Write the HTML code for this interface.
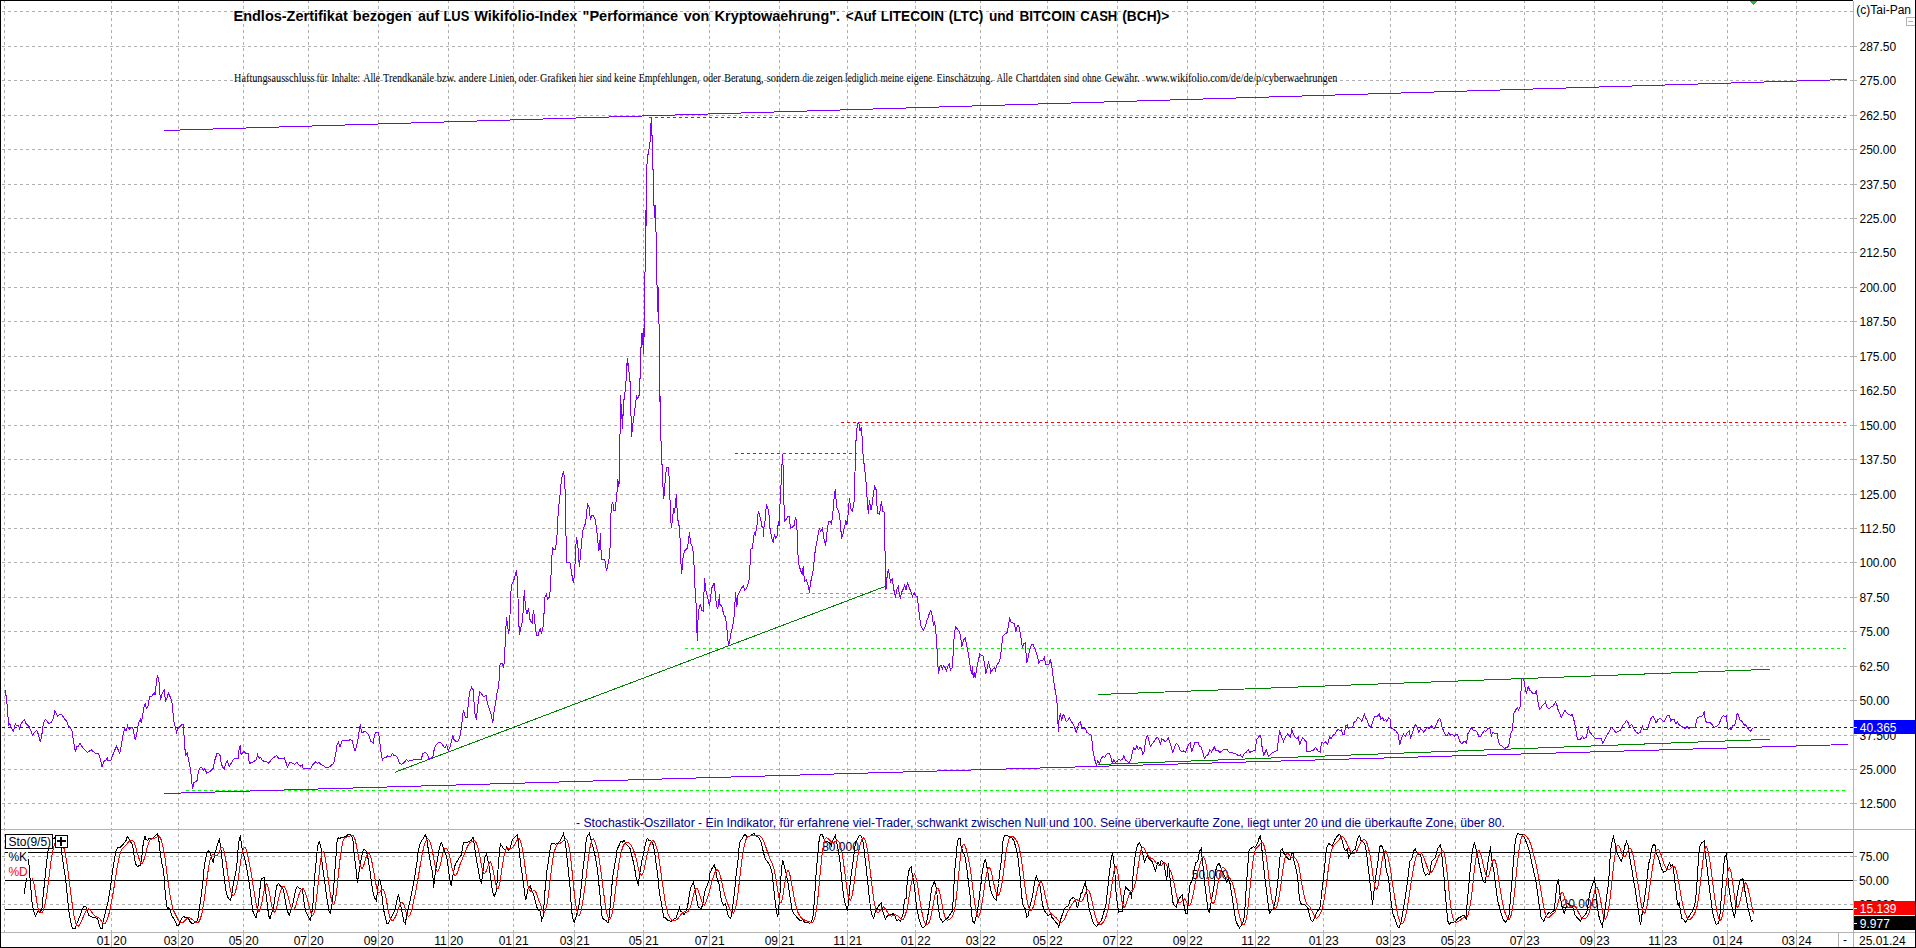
<!DOCTYPE html><html><head><meta charset="utf-8"><title>Chart</title><style>html,body{margin:0;padding:0;background:#fff;overflow:hidden}svg{display:block}text{font-family:"Liberation Sans",sans-serif;font-size:12px}.tt text{font-weight:bold;font-size:14px}.sf text{font-family:"Liberation Serif",serif;font-size:12px}</style></head><body>
<svg width="1916" height="948" viewBox="0 0 1916 948">
<rect x="0" y="0" width="1916" height="948" fill="#fff"/>
<g shape-rendering="crispEdges" stroke="#b0b0b0" stroke-width="1" stroke-dasharray="3,3" fill="none">
<line x1="2" y1="11.5" x2="1853" y2="11.5"/>
<line x1="2" y1="46.5" x2="1853" y2="46.5"/>
<line x1="2" y1="80.5" x2="1853" y2="80.5"/>
<line x1="2" y1="115.5" x2="1853" y2="115.5"/>
<line x1="2" y1="149.5" x2="1853" y2="149.5"/>
<line x1="2" y1="184.5" x2="1853" y2="184.5"/>
<line x1="2" y1="218.5" x2="1853" y2="218.5"/>
<line x1="2" y1="252.5" x2="1853" y2="252.5"/>
<line x1="2" y1="287.5" x2="1853" y2="287.5"/>
<line x1="2" y1="321.5" x2="1853" y2="321.5"/>
<line x1="2" y1="356.5" x2="1853" y2="356.5"/>
<line x1="2" y1="390.5" x2="1853" y2="390.5"/>
<line x1="2" y1="425.5" x2="1853" y2="425.5"/>
<line x1="2" y1="459.5" x2="1853" y2="459.5"/>
<line x1="2" y1="494.5" x2="1853" y2="494.5"/>
<line x1="2" y1="528.5" x2="1853" y2="528.5"/>
<line x1="2" y1="562.5" x2="1853" y2="562.5"/>
<line x1="2" y1="597.5" x2="1853" y2="597.5"/>
<line x1="2" y1="631.5" x2="1853" y2="631.5"/>
<line x1="2" y1="666.5" x2="1853" y2="666.5"/>
<line x1="2" y1="700.5" x2="1853" y2="700.5"/>
<line x1="2" y1="735.5" x2="1853" y2="735.5"/>
<line x1="2" y1="769.5" x2="1853" y2="769.5"/>
<line x1="2" y1="803.5" x2="1853" y2="803.5"/>
<line x1="2" y1="856.5" x2="1853" y2="856.5"/>
<line x1="2" y1="904.5" x2="1853" y2="904.5"/>
<line x1="4.5" y1="0" x2="4.5" y2="932"/>
<line x1="111.5" y1="0" x2="111.5" y2="932"/>
<line x1="178.5" y1="0" x2="178.5" y2="932"/>
<line x1="243.5" y1="0" x2="243.5" y2="932"/>
<line x1="308.5" y1="0" x2="308.5" y2="932"/>
<line x1="378.5" y1="0" x2="378.5" y2="932"/>
<line x1="448.5" y1="0" x2="448.5" y2="932"/>
<line x1="513.5" y1="0" x2="513.5" y2="932"/>
<line x1="574.5" y1="0" x2="574.5" y2="932"/>
<line x1="643.5" y1="0" x2="643.5" y2="932"/>
<line x1="709.5" y1="0" x2="709.5" y2="932"/>
<line x1="779.5" y1="0" x2="779.5" y2="932"/>
<line x1="847.5" y1="0" x2="847.5" y2="932"/>
<line x1="915.5" y1="0" x2="915.5" y2="932"/>
<line x1="980.5" y1="0" x2="980.5" y2="932"/>
<line x1="1047.5" y1="0" x2="1047.5" y2="932"/>
<line x1="1117.5" y1="0" x2="1117.5" y2="932"/>
<line x1="1187.5" y1="0" x2="1187.5" y2="932"/>
<line x1="1255.5" y1="0" x2="1255.5" y2="932"/>
<line x1="1323.5" y1="0" x2="1323.5" y2="932"/>
<line x1="1390.5" y1="0" x2="1390.5" y2="932"/>
<line x1="1455.5" y1="0" x2="1455.5" y2="932"/>
<line x1="1524.5" y1="0" x2="1524.5" y2="932"/>
<line x1="1594.5" y1="0" x2="1594.5" y2="932"/>
<line x1="1662.5" y1="0" x2="1662.5" y2="932"/>
<line x1="1727.5" y1="0" x2="1727.5" y2="932"/>
<line x1="1796.5" y1="0" x2="1796.5" y2="932"/>
</g>
<g shape-rendering="crispEdges" stroke="#b4b4b4" stroke-width="1" fill="none">
<line x1="1853.5" y1="1" x2="1853.5" y2="948"/>
<line x1="0" y1="829.5" x2="1916" y2="829.5"/>
<line x1="0" y1="932.5" x2="1916" y2="932.5"/>
<line x1="1838.5" y1="932" x2="1838.5" y2="948"/>
<line x1="111.5" y1="932" x2="111.5" y2="948"/>
<line x1="178.5" y1="932" x2="178.5" y2="948"/>
<line x1="243.5" y1="932" x2="243.5" y2="948"/>
<line x1="308.5" y1="932" x2="308.5" y2="948"/>
<line x1="378.5" y1="932" x2="378.5" y2="948"/>
<line x1="448.5" y1="932" x2="448.5" y2="948"/>
<line x1="513.5" y1="932" x2="513.5" y2="948"/>
<line x1="574.5" y1="932" x2="574.5" y2="948"/>
<line x1="643.5" y1="932" x2="643.5" y2="948"/>
<line x1="709.5" y1="932" x2="709.5" y2="948"/>
<line x1="779.5" y1="932" x2="779.5" y2="948"/>
<line x1="847.5" y1="932" x2="847.5" y2="948"/>
<line x1="915.5" y1="932" x2="915.5" y2="948"/>
<line x1="980.5" y1="932" x2="980.5" y2="948"/>
<line x1="1047.5" y1="932" x2="1047.5" y2="948"/>
<line x1="1117.5" y1="932" x2="1117.5" y2="948"/>
<line x1="1187.5" y1="932" x2="1187.5" y2="948"/>
<line x1="1255.5" y1="932" x2="1255.5" y2="948"/>
<line x1="1323.5" y1="932" x2="1323.5" y2="948"/>
<line x1="1390.5" y1="932" x2="1390.5" y2="948"/>
<line x1="1455.5" y1="932" x2="1455.5" y2="948"/>
<line x1="1524.5" y1="932" x2="1524.5" y2="948"/>
<line x1="1594.5" y1="932" x2="1594.5" y2="948"/>
<line x1="1662.5" y1="932" x2="1662.5" y2="948"/>
<line x1="1727.5" y1="932" x2="1727.5" y2="948"/>
<line x1="1796.5" y1="932" x2="1796.5" y2="948"/>
<line x1="1854" y1="46.5" x2="1857" y2="46.5"/>
<line x1="1854" y1="80.5" x2="1857" y2="80.5"/>
<line x1="1854" y1="115.5" x2="1857" y2="115.5"/>
<line x1="1854" y1="149.5" x2="1857" y2="149.5"/>
<line x1="1854" y1="184.5" x2="1857" y2="184.5"/>
<line x1="1854" y1="218.5" x2="1857" y2="218.5"/>
<line x1="1854" y1="252.5" x2="1857" y2="252.5"/>
<line x1="1854" y1="287.5" x2="1857" y2="287.5"/>
<line x1="1854" y1="321.5" x2="1857" y2="321.5"/>
<line x1="1854" y1="356.5" x2="1857" y2="356.5"/>
<line x1="1854" y1="390.5" x2="1857" y2="390.5"/>
<line x1="1854" y1="425.5" x2="1857" y2="425.5"/>
<line x1="1854" y1="459.5" x2="1857" y2="459.5"/>
<line x1="1854" y1="494.5" x2="1857" y2="494.5"/>
<line x1="1854" y1="528.5" x2="1857" y2="528.5"/>
<line x1="1854" y1="562.5" x2="1857" y2="562.5"/>
<line x1="1854" y1="597.5" x2="1857" y2="597.5"/>
<line x1="1854" y1="631.5" x2="1857" y2="631.5"/>
<line x1="1854" y1="666.5" x2="1857" y2="666.5"/>
<line x1="1854" y1="700.5" x2="1857" y2="700.5"/>
<line x1="1854" y1="735.5" x2="1857" y2="735.5"/>
<line x1="1854" y1="769.5" x2="1857" y2="769.5"/>
<line x1="1854" y1="803.5" x2="1857" y2="803.5"/>
<line x1="1854" y1="856.5" x2="1857" y2="856.5"/>
<line x1="1854" y1="880.5" x2="1857" y2="880.5"/>
<line x1="1854" y1="904.5" x2="1857" y2="904.5"/>
</g>
<g shape-rendering="crispEdges" fill="none" stroke-width="1">
<g stroke-dasharray="3,3">
<line x1="649" y1="117.5" x2="1846" y2="117.5" stroke="#f00"/>
<line x1="735" y1="453.5" x2="857" y2="453.5" stroke="#f00"/>
<line x1="841" y1="422.5" x2="1846" y2="422.5" stroke="#f00"/>
<line x1="800" y1="593.5" x2="916" y2="593.5" stroke="#0f0"/>
<line x1="685" y1="648.5" x2="1846" y2="648.5" stroke="#0f0"/>
<line x1="186" y1="790.5" x2="1846" y2="790.5" stroke="#0f0"/>
<line x1="2" y1="727.5" x2="1853" y2="727.5" stroke="#00f"/>
</g>
<line x1="164" y1="130.5" x2="1847" y2="79.5" stroke="#8000ff"/>
<line x1="164" y1="793.5" x2="1848" y2="744.5" stroke="#8000ff"/>
<line x1="394.6" y1="772.4" x2="886.6" y2="585.9" stroke="#008000"/>
<line x1="1098" y1="694.5" x2="1770" y2="669.3" stroke="#008000"/>
<line x1="1098" y1="764.5" x2="1770" y2="739.3" stroke="#008000"/>
<polyline points="5.2,690.5 6.6,699.1 7.8,714.0 8.6,725.8 9.7,723.4 10.5,725.4 11.3,727.3 13.3,731.2 15.3,723.9 16.4,725.8 18.5,725.4 19.6,728.9 21.1,723.4 22.7,721.8 24.3,719.5 25.8,723.4 27.4,725.0 29.0,726.5 30.5,729.7 32.4,735.5 34.4,732.3 36.8,730.5 38.4,734.4 40.4,742.2 42.0,733.6 43.4,722.6 45.4,719.5 47.0,721.1 48.9,723.4 50.9,722.6 52.9,719.5 54.8,711.4 56.4,713.2 57.6,716.1 59.5,714.5 61.5,714.5 63.4,717.2 65.0,719.5 66.5,721.1 68.4,725.8 70.5,728.1 72.0,731.2 73.6,741.4 75.5,752.4 76.7,746.1 78.3,746.1 80.2,743.3 82.2,746.9 84.6,749.6 87.7,752.4 91.3,749.6 92.4,751.1 95.8,753.5 98.6,753.5 100.2,758.6 102.2,767.3 103.8,761.5 105.7,760.2 107.3,757.9 108.0,761.0 110.9,759.9 112.4,756.3 114.3,750.8 116.6,746.4 118.2,750.0 119.8,753.2 121.3,745.3 122.9,735.9 124.5,728.9 126.0,730.8 127.6,725.8 129.2,729.7 130.7,727.6 132.8,727.6 134.2,735.2 135.4,740.2 136.7,733.6 138.6,722.6 140.4,719.5 141.4,723.4 142.8,714.0 144.1,707.0 145.3,703.1 146.4,708.5 148.0,706.2 149.5,696.8 151.9,696.3 154.2,692.9 155.0,695.2 156.1,685.1 157.4,675.3 158.9,680.4 159.7,691.3 160.5,700.4 162.1,693.7 164.1,689.7 165.5,701.0 166.8,699.1 168.3,693.2 170.4,697.3 171.9,701.5 173.0,713.2 174.1,722.6 175.4,727.3 176.6,732.0 177.7,728.9 180.1,726.5 182.4,724.2 183.5,724.5 184.0,735.2 184.8,746.9 185.5,755.5 187.1,752.7 188.7,760.2 190.2,768.0 191.3,776.6 192.6,789.2 193.8,782.9 194.9,782.1 197.0,780.6 198.5,771.2 200.4,767.3 202.0,767.7 203.5,770.4 204.8,768.8 206.7,773.0 209.0,772.0 211.4,770.4 213.3,768.0 214.8,760.2 216.9,753.9 218.4,753.5 220.0,755.5 221.1,762.6 222.3,766.5 224.2,769.3 225.5,764.1 227.3,761.0 229.1,766.5 230.9,763.7 234.1,758.6 236.4,758.3 238.0,759.0 239.1,749.2 240.3,745.3 241.1,755.2 242.7,752.4 244.3,751.6 246.6,753.9 248.2,753.6 249.3,763.3 252.1,762.6 254.4,761.0 256.0,760.2 257.6,754.7 259.1,758.6 260.2,757.1 262.3,760.2 264.6,761.8 266.2,761.5 268.5,763.3 270.9,760.2 273.2,757.9 276.4,755.5 278.7,758.3 281.8,758.6 284.2,757.9 285.8,761.8 287.3,767.3 288.9,764.1 290.0,762.6 291.2,762.6 292.3,763.3 294.4,764.1 294.7,764.1 297.0,761.8 297.0,761.8 298.3,764.9 298.6,764.9 300.2,766.2 302.2,764.6 303.3,768.8 305.7,768.0 308.8,768.0 310.7,768.8 312.7,764.9 315.8,761.5 317.4,763.3 319.0,762.6 321.3,764.9 323.7,765.7 326.0,768.0 328.4,767.7 331.0,765.7 333.8,763.0 335.4,755.5 337.0,745.3 338.5,742.2 340.1,746.9 342.0,740.6 344.8,740.2 348.7,740.6 350.3,739.5 352.3,740.6 353.4,745.8 355.0,750.5 356.5,746.9 358.1,738.3 359.7,727.3 360.5,725.4 361.6,732.8 363.6,732.0 365.5,731.2 367.5,733.6 369.1,735.9 370.6,741.1 372.2,742.2 373.3,743.0 374.6,734.4 376.1,732.3 378.5,732.3 379.7,741.4 380.8,750.8 382.4,760.2 383.9,757.9 386.3,757.1 387.9,755.8 390.2,756.8 392.6,753.5 394.1,755.5 396.5,756.3 398.0,759.0 399.6,763.3 401.5,764.1 403.5,763.3 406.6,759.4 408.2,761.5 410.6,760.5 413.7,759.9 416.8,759.0 419.2,759.7 421.2,759.4 422.8,753.6 425.4,752.4 427.5,754.7 429.0,759.0 430.9,758.3 432.8,757.1 434.4,748.5 436.4,744.6 438.7,742.2 441.1,743.0 443.1,745.8 445.0,747.7 446.6,744.6 448.1,750.8 450.0,746.9 452.1,738.3 452.8,735.5 454.1,739.9 456.0,741.4 458.3,740.9 459.9,736.7 461.5,727.3 462.5,717.2 463.5,709.8 464.6,715.1 465.4,717.6 467.2,717.2 468.5,700.7 470.1,690.5 471.6,687.4 473.2,689.7 474.0,702.3 475.1,714.8 476.3,719.5 477.9,705.4 479.5,691.3 481.0,692.9 482.9,696.0 484.9,696.3 486.0,695.2 487.3,702.3 488.9,707.8 490.7,712.5 492.8,722.6 494.3,710.1 495.9,700.7 497.0,692.9 498.2,688.2 499.5,677.2 500.1,663.1 501.9,663.3 503.8,667.2 505.1,645.3 505.8,629.6 506.6,617.4 507.9,628.0 508.7,634.3 509.7,623.3 510.5,601.4 511.3,585.8 512.9,582.6 514.8,577.2 516.3,570.4 517.3,578.7 518.0,598.3 518.7,621.8 519.6,635.1 520.7,628.0 522.0,623.3 523.1,612.4 524.3,590.5 525.4,606.9 527.0,613.9 528.5,607.7 530.1,620.2 532.1,623.3 533.5,609.6 534.8,621.8 536.4,635.1 538.2,635.1 540.3,627.7 541.4,634.3 543.1,626.5 544.2,610.8 545.0,596.7 546.5,594.4 547.6,599.1 549.7,596.7 550.8,579.5 551.7,560.7 552.5,547.4 553.9,549.4 555.5,549.0 556.7,540.4 557.5,526.3 557.8,520.9 558.3,510.0 559.9,496.6 560.6,486.5 562.2,475.8 563.5,471.1 564.6,479.4 565.3,495.9 565.8,534.1 565.8,520.9 566.4,562.6 568.5,562.3 570.0,562.6 571.6,573.2 573.5,583.4 574.4,574.8 575.2,560.7 575.8,546.6 576.6,537.5 577.9,546.6 579.4,567.0 580.5,554.4 581.8,540.4 582.6,531.0 584.1,526.6 585.2,524.1 585.7,523.1 586.5,513.1 587.6,504.5 589.1,507.1 590.4,520.1 592.0,515.4 593.5,515.4 595.1,519.4 596.2,525.6 596.6,529.4 598.2,545.1 599.0,550.5 600.6,533.3 600.9,548.2 601.8,559.1 604.5,559.5 605.3,562.3 606.5,571.4 607.6,565.4 609.2,558.4 610.4,543.5 610.7,517.8 611.5,504.5 612.8,502.9 613.9,510.0 615.4,510.0 616.5,495.9 617.5,488.0 617.8,479.4 618.9,486.5 619.4,473.9 619.7,441.1 620.4,425.4 620.6,395.3 621.4,419.1 621.7,404.3 622.5,428.5 623.3,408.2 624.4,394.9 624.5,399.5 624.8,392.4 625.3,391.0 625.4,381.3 625.9,381.6 626.4,380.5 626.6,366.3 627.5,358.4 628.0,365.5 628.4,363.1 628.8,371.8 629.6,372.6 629.9,381.3 630.5,382.1 630.6,383.1 630.6,411.3 630.7,399.5 631.4,437.2 632.7,425.4 634.2,414.4 635.5,403.5 636.6,396.4 637.8,398.8 639.2,394.9 639.4,395.6 639.5,378.2 639.7,381.6 640.3,377.4 640.5,348.1 641.4,347.3 641.4,333.1 642.2,344.9 642.7,338.6 643.3,328.3 643.5,354.4 644.3,327.5 644.6,272.2 645.4,271.4 645.4,247.4 645.4,210.2 645.5,250.0 646.4,209.4 646.7,168.3 647.7,155.6 648.8,151.7 649.6,142.2 650.3,141.4 650.7,126.4 651.5,118.4 651.6,135.1 652.4,135.9 652.4,169.1 653.4,169.9 653.7,205.5 654.8,206.3 655.1,223.7 655.4,205.0 655.9,231.6 656.5,232.4 656.5,247.4 656.6,284.8 657.6,285.6 657.7,311.7 658.4,286.7 658.5,323.6 659.3,324.4 659.6,395.6 659.7,395.7 660.5,411.3 660.6,396.4 660.6,399.5 660.8,437.9 661.6,450.5 662.4,477.1 663.2,489.6 663.7,499.3 664.8,486.5 665.5,475.5 666.6,467.7 668.2,467.4 669.1,477.1 669.8,494.3 670.6,516.2 671.3,528.0 672.3,520.9 673.7,507.6 674.5,513.1 675.7,500.6 676.5,494.3 677.0,507.6 677.6,517.8 678.9,526.3 678.9,524.1 680.1,538.8 680.9,562.3 681.7,574.0 682.8,559.1 684.0,552.9 685.4,549.7 687.5,548.2 689.5,532.5 690.6,543.5 692.2,546.6 693.3,552.9 694.2,568.5 694.8,585.8 695.8,598.3 696.5,613.9 696.9,629.6 697.3,641.3 698.0,620.2 698.9,609.2 700.5,603.8 701.6,610.8 703.1,611.1 703.9,595.2 704.5,577.6 705.5,588.9 706.6,593.6 707.8,598.3 709.4,606.1 710.9,595.2 711.7,588.1 714.1,583.4 715.3,593.6 716.4,605.3 717.7,609.2 719.6,594.4 720.0,604.6 721.9,606.1 723.5,613.9 725.4,617.1 726.6,624.9 727.4,634.3 728.5,646.0 729.7,640.6 731.0,632.7 732.6,627.3 734.0,617.1 734.9,604.6 735.5,592.3 736.8,606.9 738.0,595.2 739.9,591.2 741.5,588.1 743.4,585.8 744.9,590.5 747.0,587.3 748.5,582.6 749.3,577.9 750.1,563.8 750.9,549.0 752.4,548.2 754.3,532.5 755.1,535.7 756.8,527.8 757.5,517.8 758.4,511.5 760.3,517.8 761.8,524.7 761.8,526.4 763.1,528.0 763.4,537.2 764.2,524.1 764.7,527.0 765.3,514.7 766.5,505.3 768.1,509.2 769.4,517.8 770.0,528.4 770.4,529.4 771.5,537.2 771.6,537.8 773.1,541.9 773.1,542.5 774.4,534.7 774.7,534.9 775.9,538.0 775.9,538.6 777.5,534.9 777.5,531.5 778.3,521.7 778.6,522.1 779.1,526.3 779.4,514.7 779.7,509.6 780.6,493.9 781.7,471.2 782.5,454.0 783.3,471.2 783.6,503.3 784.4,506.5 784.6,521.3 786.4,519.0 788.0,516.6 789.3,516.6 790.4,528.4 792.7,526.8 794.3,525.3 795.4,517.1 796.3,519.8 796.9,530.0 797.7,532.3 797.9,540.9 797.9,553.5 798.7,564.4 800.2,569.1 801.3,572.3 802.1,574.6 803.2,566.3 804.1,577.0 804.8,580.9 806.3,579.8 807.9,584.8 809.5,592.6 810.4,583.2 812.0,576.2 813.1,570.7 814.3,559.7 815.4,548.8 816.2,545.6 817.8,536.2 819.3,528.4 820.9,531.5 822.5,528.4 824.0,539.4 825.6,545.6 826.7,534.7 827.6,526.8 828.7,521.3 830.3,521.3 831.4,523.7 832.3,519.0 833.4,506.5 834.5,493.9 835.4,489.2 836.1,500.2 837.0,508.0 838.9,512.0 840.1,520.6 841.6,538.6 842.8,534.7 844.4,527.6 845.9,520.6 847.0,524.5 847.8,517.4 848.6,508.0 849.4,498.3 850.6,508.0 852.2,511.2 853.3,506.5 854.6,497.9 855.0,472.0 855.8,443.8 856.6,431.3 857.7,423.5 858.8,422.2 860.0,431.3 861.1,427.4 862.1,436.8 862.8,451.7 863.9,462.6 865.0,472.0 866.3,484.6 867.1,498.6 868.3,513.5 869.4,500.2 871.0,509.6 872.1,504.9 873.3,493.9 874.6,486.1 876.2,490.0 876.8,503.3 877.7,513.5 879.6,514.3 880.5,506.5 881.5,501.5 882.7,511.2 884.8,512.4 884.8,540.9 884.8,550.4 885.9,553.5 885.9,590.3 886.6,581.7 887.4,573.8 888.5,569.1 889.8,577.8 890.6,581.7 892.1,578.5 893.2,584.8 894.2,591.8 895.6,597.6 896.5,590.3 898.4,586.7 899.2,594.2 900.4,598.6 901.5,592.6 903.4,588.7 904.7,584.8 906.2,590.3 907.5,582.5 909.4,587.9 910.9,591.8 912.5,596.5 914.1,592.6 915.6,595.8 917.2,596.5 918.4,606.7 919.5,616.1 920.6,624.7 921.9,627.9 923.4,630.5 925.3,626.3 927.0,620.0 928.1,617.7 929.7,612.2 931.0,610.6 932.1,615.3 933.6,625.5 934.4,620.8 935.7,630.2 936.4,639.6 937.2,652.1 937.8,664.7 938.6,673.7 939.9,666.2 941.5,665.4 942.2,669.4 943.5,666.2 945.1,667.8 946.6,670.9 947.7,666.2 949.3,663.9 950.4,670.1 952.1,667.8 953.2,653.7 954.0,639.6 954.8,631.0 955.9,626.8 957.6,629.4 959.5,631.8 960.6,636.5 961.8,646.6 963.4,640.4 965.3,637.7 966.5,644.3 967.6,649.8 968.9,656.8 970.4,667.8 971.5,674.1 972.5,666.2 973.2,678.0 974.3,671.7 975.1,678.0 976.7,668.6 978.2,661.5 979.8,653.7 981.4,655.3 982.9,655.3 984.5,663.1 985.8,674.1 987.3,667.8 988.4,661.5 989.7,666.2 990.8,672.5 993.1,668.6 994.7,667.8 995.5,670.1 997.0,664.7 999.4,661.5 1000.5,656.8 1001.7,645.9 1003.0,635.7 1004.9,634.1 1007.2,632.6 1008.5,625.5 1009.6,618.5 1011.1,622.4 1014.3,623.6 1015.8,631.5 1017.4,625.5 1018.5,625.2 1019.7,630.2 1021.3,639.6 1022.4,648.2 1023.7,643.5 1025.5,643.0 1026.5,663.1 1028.0,658.4 1029.6,650.6 1031.2,645.1 1033.0,644.3 1034.6,648.2 1036.2,652.1 1037.7,657.6 1038.8,663.1 1040.9,660.0 1042.4,660.7 1044.3,657.6 1045.9,664.7 1047.9,664.3 1049.2,663.9 1050.3,659.2 1051.8,666.2 1053.1,676.4 1054.4,686.2 1055.7,693.2 1056.9,700.3 1057.5,715.9 1058.5,732.4 1059.1,718.3 1060.4,713.3 1061.5,720.6 1063.2,714.4 1064.3,715.9 1066.3,721.4 1067.9,719.9 1069.4,717.5 1071.3,721.4 1073.2,724.6 1074.8,727.7 1076.3,733.2 1077.6,726.9 1079.1,723.0 1080.4,721.7 1082.0,728.9 1083.8,728.9 1085.4,728.5 1087.0,732.4 1088.9,733.9 1090.9,734.3 1092.1,741.8 1093.2,752.7 1094.8,759.8 1096.4,765.3 1097.9,760.6 1099.5,763.7 1101.1,759.0 1102.9,755.9 1104.5,757.7 1106.5,754.3 1108.9,753.0 1110.5,755.9 1112.3,762.9 1113.9,759.8 1115.2,762.1 1117.0,761.8 1118.3,759.3 1120.2,760.3 1122.2,759.8 1123.8,755.6 1125.3,759.8 1127.7,761.8 1129.2,762.4 1131.1,759.0 1132.4,752.0 1133.5,748.0 1135.2,749.6 1136.8,745.7 1138.3,749.6 1140.2,747.3 1141.8,749.6 1142.6,754.0 1144.1,752.0 1145.2,743.3 1146.5,737.1 1147.7,735.2 1148.8,740.2 1150.4,746.5 1152.7,743.3 1155.9,738.6 1157.7,737.1 1159.3,740.2 1160.3,744.6 1161.8,739.0 1163.7,740.2 1165.3,741.8 1166.8,740.2 1168.4,737.9 1170.0,742.6 1171.5,748.0 1172.8,752.4 1174.7,746.5 1176.2,743.3 1178.1,744.9 1180.1,750.4 1181.7,751.5 1183.3,750.9 1185.6,752.0 1187.2,748.0 1188.7,744.1 1190.3,742.6 1191.6,752.0 1193.1,748.0 1195.0,742.6 1198.1,742.6 1199.7,746.2 1201.3,747.3 1202.8,752.7 1204.4,758.2 1206.3,755.9 1208.3,754.3 1209.9,749.6 1211.5,752.0 1213.0,749.6 1214.6,746.5 1215.4,750.4 1217.7,750.4 1220.1,752.4 1222.4,750.4 1224.4,749.3 1227.1,749.6 1229.5,752.7 1232.6,752.7 1235.7,754.0 1238.9,755.9 1240.4,755.1 1242.3,757.1 1244.3,753.5 1246.4,752.0 1248.2,749.6 1249.8,752.4 1252.2,751.2 1255.3,750.4 1256.4,740.2 1258.4,737.1 1260.5,735.2 1261.6,741.8 1262.3,749.6 1263.9,755.1 1266.3,749.6 1268.3,756.2 1270.2,755.1 1272.5,752.7 1274.9,751.5 1277.2,750.4 1278.3,740.2 1279.6,730.5 1281.1,735.5 1283.5,741.5 1285.8,736.3 1287.7,733.9 1289.0,735.5 1290.5,737.1 1291.8,729.6 1293.3,733.9 1295.2,737.1 1296.8,738.6 1298.4,736.8 1299.6,744.6 1301.2,740.2 1302.7,737.4 1304.6,740.2 1306.2,741.8 1307.0,752.0 1309.3,751.5 1313.2,750.4 1315.6,747.3 1317.9,750.9 1320.3,752.0 1321.5,742.6 1323.4,743.3 1325.3,741.8 1327.8,744.1 1329.7,736.8 1331.2,738.6 1332.8,735.5 1335.1,733.9 1337.5,729.6 1337.8,729.2 1339.7,730.8 1341.3,729.6 1342.8,734.7 1344.4,734.4 1345.7,725.8 1347.2,724.6 1348.5,728.0 1351.1,727.4 1352.7,727.4 1354.3,721.4 1355.8,721.1 1358.2,717.0 1360.1,719.1 1361.8,721.4 1363.2,717.5 1364.4,714.4 1366.3,719.1 1367.6,721.4 1369.1,725.8 1371.0,727.4 1372.3,723.0 1374.2,717.0 1376.2,716.4 1377.8,715.9 1379.3,714.4 1380.9,719.1 1382.5,717.5 1384.0,720.6 1385.6,719.5 1386.7,721.4 1388.7,718.0 1390.0,719.1 1391.1,727.7 1393.4,729.2 1395.4,730.5 1398.1,733.9 1399.7,745.2 1401.7,737.9 1403.3,733.9 1405.2,736.3 1407.5,732.4 1409.1,730.8 1410.6,737.4 1412.2,733.9 1413.8,728.5 1415.3,724.6 1416.9,726.9 1418.9,732.4 1420.5,728.5 1422.4,730.5 1423.9,732.4 1425.8,729.2 1427.9,726.9 1429.0,728.5 1431.5,725.8 1433.3,728.5 1434.6,728.5 1436.5,723.8 1438.0,720.6 1439.6,718.3 1440.9,721.4 1442.0,726.9 1443.5,730.8 1445.6,735.5 1447.4,735.2 1448.7,732.7 1450.6,735.2 1452.4,734.3 1454.5,736.3 1456.0,734.3 1457.6,734.3 1458.7,738.6 1460.0,741.5 1461.5,743.7 1463.9,741.8 1465.4,741.8 1466.5,743.3 1467.8,733.9 1469.7,730.5 1471.7,727.7 1473.3,730.8 1474.8,730.0 1476.9,731.6 1478.7,736.3 1480.6,736.3 1482.7,733.2 1484.2,730.5 1485.8,731.6 1487.4,729.2 1489.7,727.4 1491.3,735.8 1492.8,732.4 1495.2,733.9 1497.2,733.9 1498.3,740.2 1499.4,744.9 1501.5,745.7 1503.0,747.3 1504.6,748.4 1506.1,747.7 1507.7,747.3 1509.3,743.3 1510.8,733.2 1511.9,731.6 1512.9,724.6 1513.5,714.4 1515.1,711.2 1517.1,707.6 1518.7,710.1 1520.2,706.5 1521.0,691.7 1521.8,679.1 1522.9,678.8 1524.2,681.0 1525.4,689.3 1526.5,693.5 1528.1,686.2 1529.6,690.1 1531.2,691.4 1532.8,693.5 1535.1,693.5 1536.4,690.1 1537.5,699.5 1538.6,705.8 1539.8,709.7 1541.7,706.5 1543.7,704.5 1545.3,702.3 1546.9,706.5 1548.4,708.9 1550.8,707.3 1553.1,705.8 1555.5,702.3 1556.7,704.2 1557.8,708.9 1559.4,712.8 1561.4,717.5 1563.3,713.6 1564.9,710.5 1566.7,712.8 1568.8,714.8 1571.1,715.2 1572.4,714.4 1573.5,718.3 1574.6,723.0 1575.5,727.7 1576.6,733.9 1577.4,739.4 1579.3,739.4 1580.5,739.4 1582.4,736.3 1583.7,738.3 1586.5,737.4 1587.6,730.8 1588.4,727.7 1589.9,732.4 1592.3,735.2 1594.6,737.9 1597.0,738.3 1599.3,738.6 1601.2,738.3 1602.8,743.7 1604.3,740.2 1606.8,735.5 1608.7,732.4 1611.4,727.4 1613.4,729.2 1615.8,732.7 1618.1,731.6 1620.4,730.0 1622.5,725.8 1624.4,723.8 1626.7,720.2 1628.3,723.0 1629.6,726.1 1631.9,724.6 1633.5,728.5 1635.8,731.6 1638.2,733.6 1640.1,732.4 1641.3,729.2 1642.4,725.8 1643.7,729.6 1647.3,729.2 1648.8,724.6 1650.4,719.9 1651.5,717.5 1653.1,716.4 1654.6,719.1 1656.2,723.0 1657.8,719.9 1660.1,718.3 1662.5,720.2 1664.0,722.2 1666.1,717.5 1667.6,715.5 1669.5,715.9 1670.8,721.4 1672.3,719.1 1674.2,719.9 1675.8,723.8 1677.3,721.4 1678.9,724.6 1681.2,726.1 1683.3,727.7 1685.2,728.5 1687.0,726.4 1689.1,728.5 1691.4,727.4 1695.3,727.4 1696.6,719.9 1698.0,717.5 1700.0,716.7 1702.4,715.9 1703.6,713.6 1704.4,711.2 1705.2,719.9 1706.3,722.2 1707.9,723.0 1710.2,722.7 1712.1,724.6 1714.1,727.4 1716.5,726.4 1718.8,724.6 1720.4,720.6 1722.0,716.7 1723.5,715.5 1725.1,716.7 1726.6,715.9 1727.4,727.7 1728.2,729.2 1729.8,728.5 1731.3,729.6 1732.4,725.3 1734.8,725.3 1736.0,719.9 1737.1,713.6 1738.4,714.8 1740.0,719.9 1741.5,720.6 1743.1,723.0 1744.7,725.8 1745.9,724.6 1747.5,727.7 1749.0,730.0 1750.4,731.6 1751.7,729.2 1752.8,728.5" stroke="#8000ff"/>
</g>
<text x="822.2" y="851" fill="#000040">80.000</text>
<text x="1191.8" y="879" fill="#000040">50.000</text>
<text x="1561.6" y="908" fill="#000040">20.000</text>
<g shape-rendering="crispEdges" stroke="#000" stroke-width="1" fill="none">
<line x1="5" y1="852.5" x2="1853" y2="852.5"/>
<line x1="5" y1="880.5" x2="1853" y2="880.5"/>
<line x1="5" y1="909.5" x2="1853" y2="909.5"/>
<polyline points="24.4,893.9 25.5,883.5 26.7,879.1 27.4,869.7 28.2,858.8 28.8,865.1 29.7,865.7 30.1,881.2 31.1,890.4 31.6,899.6 33.1,908.8 34.5,914.0 35.4,916.3 36.8,913.4 38.2,911.1 39.7,912.3 40.8,911.1 42.0,908.2 42.8,899.6 43.7,890.4 44.9,879.5 45.8,869.7 46.9,859.4 48.1,850.7 49.2,846.7 51.8,839.8 55.2,837.5 58.7,841.0 61.0,847.9 62.1,855.9 63.8,867.4 65.6,878.9 66.7,890.4 67.9,901.9 68.8,911.1 70.2,919.2 71.3,924.9 72.5,928.1 75.3,928.1 76.5,924.3 78.2,920.3 80.5,914.6 82.2,908.8 84.0,906.5 85.7,906.5 87.4,911.1 89.1,915.7 90.9,916.3 92.6,917.4 95.5,917.4 97.8,919.2 98.9,923.8 100.3,928.1 102.1,928.1 102.9,922.6 104.1,918.0 105.8,911.1 107.5,904.2 109.3,895.0 111.0,883.5 112.1,874.3 113.3,866.3 114.4,859.4 115.6,852.5 116.4,849.6 117.9,847.3 119.0,848.1 120.8,846.9 123.6,843.8 125.9,841.0 127.1,836.4 128.6,838.4 130.0,841.0 132.3,844.4 133.4,850.2 134.6,859.4 135.9,864.5 137.4,866.5 140.3,865.1 141.7,858.2 142.6,847.9 143.8,841.0 145.1,835.8 146.1,839.8 147.8,840.4 148.9,838.7 153.0,838.1 154.7,836.4 157.3,834.1 158.5,836.4 159.3,844.4 160.4,854.8 161.6,861.7 163.3,869.7 164.5,880.1 165.0,890.4 166.2,901.9 167.3,908.8 168.5,907.9 169.6,908.8 171.4,914.6 173.7,918.6 175.4,921.5 177.1,925.8 178.8,924.9 180.0,922.6 181.7,918.6 183.4,916.3 185.2,917.4 186.9,917.4 188.6,918.6 190.3,922.0 192.1,923.8 194.4,922.8 196.7,922.4 198.0,918.0 199.2,910.0 200.7,899.6 201.8,890.4 203.0,880.1 203.8,870.9 205.3,860.5 206.4,854.8 208.2,850.7 209.9,851.9 211.6,858.2 213.3,862.8 214.5,854.8 216.2,849.0 217.9,843.3 219.4,839.6 220.6,845.6 221.5,854.8 222.7,865.1 223.8,874.3 225.0,883.5 226.1,891.6 227.5,896.7 229.0,899.0 230.5,900.2 231.9,893.9 233.0,885.8 234.4,879.5 235.9,872.0 237.0,862.8 237.9,851.3 238.8,842.1 239.7,838.7 240.5,834.6 241.1,842.1 242.2,849.0 243.9,855.9 245.7,862.8 247.4,872.0 249.1,882.4 250.3,890.4 251.4,900.8 252.8,911.1 254.3,914.6 256.0,918.0 257.2,912.3 258.3,904.2 259.5,893.9 260.6,882.4 261.8,878.3 264.3,877.8 265.0,887.0 266.4,896.2 267.5,906.5 268.7,915.7 270.0,919.2 271.5,913.4 273.3,908.8 274.4,901.9 275.6,892.7 276.7,885.8 278.4,883.5 280.2,885.8 281.9,887.0 283.6,890.4 284.8,897.3 285.9,904.2 287.3,911.1 289.4,915.1 290.5,911.1 291.9,907.7 293.4,901.9 294.5,895.0 295.7,889.8 297.4,886.4 299.7,888.7 302.0,889.3 303.2,895.0 304.3,904.2 306.0,912.3 308.3,916.9 310.3,920.3 311.4,915.7 312.9,905.4 313.5,895.0 314.4,880.1 315.2,870.9 316.4,859.4 317.2,849.0 318.3,843.3 319.5,841.5 321.0,847.9 321.6,854.8 322.1,864.0 323.3,872.0 325.0,883.5 326.2,893.9 327.3,900.8 329.0,911.1 330.2,913.4 331.3,907.7 332.5,900.8 333.1,893.9 334.0,883.5 334.8,872.0 335.9,858.2 336.5,845.6 337.4,839.8 338.6,837.5 339.7,838.7 341.1,837.5 343.4,837.3 345.7,836.6 348.0,834.6 350.3,834.6 352.6,837.5 353.5,845.6 354.3,855.9 355.5,865.1 356.6,874.3 357.5,883.3 358.6,874.3 360.1,865.1 361.8,855.9 363.2,850.2 364.7,849.2 366.4,851.9 367.6,855.9 368.7,862.8 370.1,872.0 371.6,883.5 373.3,893.9 375.0,898.5 376.4,900.5 377.3,892.7 378.5,881.2 379.6,879.5 380.8,882.4 381.6,891.6 382.3,899.6 383.7,910.0 385.4,918.0 386.9,923.5 388.3,923.2 390.6,919.2 392.9,914.6 394.6,911.1 396.1,904.2 397.5,897.3 398.6,894.8 399.8,900.8 400.9,906.5 402.3,913.4 403.8,921.5 405.3,923.5 406.7,915.7 408.4,907.7 410.1,900.8 411.8,891.6 413.6,883.5 415.3,873.2 417.0,861.7 418.4,850.2 419.9,844.4 421.6,840.4 423.3,838.7 425.3,834.6 426.8,838.7 427.9,846.7 429.1,854.8 429.2,854.8 430.9,865.1 432.4,872.0 433.2,880.1 433.6,887.5 434.4,881.2 435.5,870.9 437.3,860.5 439.0,850.2 440.5,844.4 441.6,842.7 443.0,846.7 444.7,851.3 446.5,855.9 447.6,862.8 448.8,872.0 449.9,880.1 451.3,885.8 452.2,880.1 453.6,872.0 455.1,865.1 456.8,861.7 459.1,858.2 461.4,854.8 462.3,849.0 463.5,842.7 465.4,842.3 467.2,842.7 468.9,841.5 471.2,840.4 473.1,837.5 474.1,843.3 475.2,851.3 476.4,859.4 478.1,868.6 479.8,878.9 481.5,882.9 482.7,874.3 483.8,864.0 485.0,857.1 486.5,853.6 487.9,860.5 489.0,866.3 490.2,874.3 491.3,883.5 492.5,891.6 494.2,896.2 495.9,892.7 497.1,882.4 498.0,869.7 498.8,859.4 499.6,849.0 500.5,843.8 502.2,846.7 504.0,849.0 505.7,850.2 506.5,847.3 508.3,850.2 510.3,847.9 512.0,841.0 513.4,838.7 515.5,836.6 517.2,835.2 518.0,838.7 518.9,846.7 519.8,855.9 521.0,867.4 522.4,875.5 523.5,883.5 524.7,893.9 525.8,900.2 527.0,893.9 528.1,888.7 530.2,885.8 531.6,890.4 533.3,893.9 535.0,899.6 536.7,907.1 538.5,910.0 540.2,911.1 541.6,920.3 543.1,916.9 544.0,905.4 544.8,892.7 545.9,881.2 546.7,872.0 548.2,862.8 549.4,854.8 550.5,846.7 551.7,843.5 553.4,843.3 555.7,844.4 557.4,843.3 559.7,841.5 561.5,838.1 563.5,833.5 564.7,838.7 565.8,845.6 566.6,854.8 567.8,865.1 568.9,875.5 570.1,888.1 570.9,900.8 571.8,912.3 573.0,919.2 574.1,922.4 575.8,918.0 577.6,911.1 579.3,904.2 580.4,895.0 581.6,883.5 582.7,872.0 583.9,861.7 585.0,853.6 585.8,843.3 587.3,835.8 589.3,833.5 590.8,838.7 592.5,845.6 594.2,851.3 596.0,860.5 597.7,872.0 598.8,883.5 600.0,895.0 601.1,906.5 601.7,915.7 603.4,919.2 605.7,920.3 608.0,923.2 609.2,916.9 610.3,904.2 611.5,890.4 612.6,877.8 614.4,866.3 616.1,857.1 617.2,849.0 619.0,845.6 620.7,841.5 622.4,842.1 624.1,840.0 625.6,843.8 627.0,845.0 628.7,846.7 630.5,849.0 631.6,854.8 633.3,861.7 635.1,870.9 636.2,877.8 637.4,882.9 638.5,884.7 639.2,876.6 640.4,869.7 641.5,862.8 643.2,854.8 644.4,849.0 645.5,843.3 647.3,838.4 649.0,840.4 651.3,841.0 653.0,844.4 654.4,850.2 655.5,859.4 657.0,869.7 658.2,880.1 658.8,888.1 660.1,896.2 661.6,904.2 662.8,911.1 663.6,917.4 665.7,918.0 668.0,920.3 670.8,921.5 673.1,919.7 676.0,918.0 677.2,914.6 678.3,911.1 679.5,907.7 680.6,911.1 682.3,912.3 684.1,915.1 685.8,911.7 687.5,906.5 688.7,899.6 689.8,891.6 691.0,887.0 693.3,882.4 694.6,887.0 695.8,893.9 696.7,899.6 697.9,905.4 699.0,907.9 701.3,908.2 702.5,905.4 703.6,899.6 704.5,892.7 705.9,888.1 707.6,884.7 709.1,880.1 709.9,873.2 711.7,869.1 713.4,866.3 714.5,864.9 715.7,870.9 716.8,876.6 717.6,881.2 718.6,881.2 719.5,888.1 720.9,897.3 722.0,901.9 723.7,905.4 725.5,903.6 726.6,908.8 727.8,914.6 729.1,916.9 730.6,918.6 731.8,913.4 732.9,905.4 734.1,895.0 735.2,885.8 736.0,876.6 736.7,869.7 737.9,861.7 738.7,852.5 739.3,844.4 740.4,840.4 742.1,838.7 743.3,836.4 745.0,834.1 746.7,836.6 749.0,836.4 751.3,835.2 754.0,833.5 755.4,835.8 757.7,836.4 759.4,838.7 761.1,842.1 762.3,846.7 763.4,852.5 765.1,858.2 766.9,861.1 768.6,863.4 770.3,866.3 771.7,870.9 772.6,877.8 773.5,887.0 774.7,897.3 775.8,906.5 776.6,913.4 777.8,916.3 778.6,910.0 779.5,899.6 780.4,888.1 781.2,872.0 782.0,865.1 782.7,860.5 784.1,865.1 785.5,870.9 787.0,877.8 788.5,885.8 789.6,893.9 790.8,901.9 791.9,908.8 793.3,912.8 795.6,915.7 797.9,918.6 800.8,920.9 802.5,919.7 804.8,922.4 807.7,922.4 809.6,923.2 811.7,921.5 812.9,916.9 814.0,905.4 814.9,892.7 815.7,880.1 816.3,870.9 817.5,858.2 818.4,846.7 819.5,837.5 820.9,834.3 822.3,834.6 823.8,838.7 824.9,841.0 827.2,841.5 829.5,842.7 831.3,845.6 833.0,839.8 835.3,835.8 836.4,841.0 837.6,846.7 838.7,853.6 839.9,860.5 841.0,872.0 842.2,883.5 843.3,893.9 845.1,903.1 846.4,907.7 847.6,910.0 848.1,905.4 849.2,893.9 850.4,881.2 851.5,872.0 852.9,862.8 854.4,851.3 855.5,842.1 857.3,839.8 859.0,835.8 860.7,835.2 862.4,838.7 863.6,845.6 864.7,854.8 865.9,865.1 867.0,875.5 868.2,887.0 869.3,897.3 870.5,907.7 871.6,914.6 873.4,918.0 874.5,915.7 875.9,909.4 877.4,908.2 879.1,905.4 881.2,902.8 882.0,907.7 883.5,913.4 885.4,919.2 887.2,916.3 888.9,914.6 891.2,915.1 893.1,913.6 895.0,915.7 896.6,920.3 898.7,919.7 900.4,921.5 902.1,916.9 903.3,913.4 904.4,899.6 906.1,898.5 907.3,880.1 908.8,870.9 910.2,868.0 911.3,866.8 912.2,874.3 913.6,881.2 914.8,890.4 915.9,900.8 917.3,911.1 918.8,918.0 920.5,923.8 922.2,927.2 924.0,927.2 925.7,924.9 927.4,918.0 928.6,911.1 929.7,903.1 930.9,893.9 932.0,887.0 934.3,881.8 935.5,884.7 936.8,891.6 937.5,900.8 938.7,910.0 939.8,918.0 941.2,919.7 942.6,922.0 944.1,920.9 946.4,919.2 948.7,916.9 951.0,912.8 952.5,911.1 953.3,897.3 954.1,882.4 954.8,869.7 955.9,859.4 956.7,849.0 957.5,841.0 958.5,838.7 960.2,838.4 961.0,845.6 962.5,851.3 964.0,854.2 965.1,857.1 966.3,865.1 967.7,875.5 968.8,885.8 970.0,895.0 970.9,905.4 971.7,914.6 972.8,921.5 974.6,923.2 975.7,918.0 977.4,911.1 978.6,903.1 979.7,893.9 980.9,884.7 981.7,876.6 982.8,868.6 984.3,861.7 985.5,859.6 986.6,865.1 987.8,872.0 988.9,878.9 990.1,887.0 991.8,893.9 994.1,897.9 996.2,900.2 997.3,892.7 998.5,883.5 999.6,873.2 1001.0,862.8 1002.2,852.5 1002.7,843.3 1003.5,837.5 1005.4,835.2 1007.3,835.8 1009.1,836.6 1011.4,837.5 1013.7,840.4 1015.4,845.6 1016.5,850.2 1017.7,855.9 1018.8,865.1 1020.0,875.5 1020.8,885.8 1021.7,896.2 1022.9,904.8 1024.6,907.7 1025.7,910.0 1026.5,917.4 1028.0,916.3 1029.2,910.0 1030.7,903.1 1032.1,897.3 1033.2,891.6 1034.4,883.5 1035.5,877.8 1036.4,876.0 1037.8,880.1 1039.5,882.4 1040.7,890.4 1041.8,899.6 1043.0,906.5 1044.7,911.1 1046.4,913.4 1048.2,915.7 1050.5,914.0 1051.6,916.9 1053.9,919.7 1056.2,922.6 1057.9,924.3 1058.5,927.8 1059.8,922.6 1061.5,916.9 1063.2,912.3 1065.0,907.7 1066.7,906.5 1068.4,905.9 1069.8,900.8 1071.3,898.5 1073.6,897.5 1074.7,898.5 1075.9,901.9 1077.4,908.2 1078.5,904.2 1079.9,898.5 1080.8,893.9 1082.2,892.1 1083.6,887.0 1085.4,881.4 1086.2,888.1 1087.4,897.3 1088.5,905.4 1089.7,910.5 1091.2,915.7 1092.6,921.5 1094.3,924.3 1096.6,926.3 1098.3,924.3 1100.6,921.5 1102.3,918.0 1104.1,911.1 1105.8,905.4 1106.9,896.2 1108.1,884.7 1109.2,874.3 1110.4,865.1 1111.2,858.2 1112.7,853.4 1113.8,861.7 1115.0,874.3 1115.6,888.1 1116.7,897.3 1117.6,906.5 1118.8,912.0 1120.7,911.3 1122.5,911.3 1123.0,904.2 1124.2,893.9 1125.7,887.0 1127.3,888.7 1129.1,890.4 1130.5,891.6 1131.7,898.5 1132.2,888.1 1133.0,876.6 1134.0,866.3 1135.1,855.9 1136.3,849.0 1137.6,845.0 1139.5,842.7 1140.9,845.6 1142.0,850.7 1143.4,857.1 1144.5,862.8 1145.7,858.2 1147.2,855.9 1148.9,858.2 1150.6,859.9 1152.4,861.7 1154.1,867.4 1155.6,871.1 1156.7,865.7 1158.1,862.2 1159.8,865.1 1161.3,860.5 1163.3,862.2 1164.4,865.1 1165.6,874.3 1166.7,879.8 1167.9,867.4 1168.5,862.8 1169.4,872.0 1170.5,882.4 1171.7,892.7 1172.8,901.9 1174.2,905.4 1176.3,907.1 1177.7,900.8 1179.4,898.5 1181.1,896.2 1182.3,894.8 1183.4,901.9 1184.6,908.8 1185.7,913.4 1187.4,913.4 1188.0,904.2 1189.2,891.6 1190.3,882.9 1191.7,881.8 1193.2,876.6 1194.3,869.7 1195.8,862.8 1197.8,861.1 1198.9,854.8 1200.1,850.2 1201.2,848.4 1202.0,857.1 1203.0,866.3 1204.1,877.8 1205.3,888.1 1206.4,897.3 1207.8,908.8 1209.3,912.0 1210.4,906.5 1211.6,899.6 1212.7,893.9 1213.9,887.0 1214.7,878.9 1215.6,870.9 1217.3,865.1 1219.1,863.4 1220.4,866.3 1221.9,871.4 1223.7,874.3 1225.4,877.8 1226.9,882.4 1228.3,877.8 1230.0,883.5 1231.1,890.4 1232.3,897.3 1233.4,905.4 1234.6,913.4 1236.1,921.5 1237.7,924.9 1239.5,927.8 1240.9,926.1 1242.6,923.8 1244.1,918.0 1244.9,908.8 1245.5,897.3 1246.4,885.8 1247.2,874.3 1248.0,862.8 1249.0,851.3 1250.1,848.4 1251.8,847.9 1253.3,846.7 1254.7,847.3 1256.4,845.6 1257.9,842.1 1259.3,837.5 1260.5,835.8 1261.4,843.3 1262.2,852.5 1263.3,864.0 1264.5,874.3 1265.6,883.5 1266.8,892.7 1267.9,901.9 1269.1,911.1 1269.4,913.4 1271.5,910.5 1273.2,908.8 1274.7,904.2 1276.1,895.0 1277.3,885.8 1278.4,875.5 1279.3,864.0 1280.1,855.9 1280.7,850.2 1282.4,848.8 1283.6,853.0 1285.3,854.8 1287.0,857.6 1288.8,859.4 1290.5,859.9 1291.3,853.6 1293.1,853.6 1293.9,860.5 1295.1,865.1 1296.2,869.7 1297.4,876.6 1298.5,887.0 1299.3,897.3 1300.5,903.1 1302.0,904.8 1304.3,904.2 1306.6,906.5 1308.3,908.8 1309.5,915.7 1310.8,919.7 1312.9,921.5 1314.1,919.2 1315.8,914.6 1317.5,911.1 1319.8,908.2 1321.0,899.6 1322.1,889.3 1323.3,880.1 1324.4,869.7 1325.3,859.4 1326.1,852.5 1326.7,847.3 1329.0,843.3 1330.7,845.0 1331.9,845.6 1333.6,843.3 1335.3,838.7 1337.1,836.4 1339.4,834.3 1341.1,836.9 1342.2,841.0 1343.4,845.0 1344.5,849.6 1346.3,850.7 1347.4,849.0 1348.6,858.2 1350.3,854.8 1352.0,851.9 1353.7,850.2 1355.5,849.0 1356.6,842.7 1357.8,838.1 1359.5,835.8 1361.0,840.4 1362.9,842.1 1364.7,843.3 1365.8,849.0 1367.0,857.1 1368.1,866.3 1369.3,876.6 1370.4,885.8 1371.6,896.2 1372.5,905.4 1373.3,897.3 1374.4,888.1 1375.6,878.9 1376.7,869.7 1377.9,861.7 1379.0,853.6 1379.8,846.7 1381.3,845.3 1382.8,847.9 1384.2,852.5 1385.4,862.8 1386.5,872.0 1388.2,876.6 1389.4,885.8 1390.5,896.2 1391.7,906.5 1392.8,913.4 1394.6,918.0 1396.3,923.2 1398.0,927.2 1399.4,927.2 1400.9,922.6 1402.0,916.9 1403.5,908.8 1404.9,899.6 1406.3,890.4 1407.8,878.9 1408.9,868.6 1410.1,860.5 1411.8,859.4 1413.5,851.3 1415.3,848.8 1416.4,852.5 1418.1,854.2 1420.4,854.2 1421.6,860.5 1422.7,866.3 1423.9,871.4 1425.6,875.5 1427.3,873.7 1429.1,874.3 1430.2,870.9 1431.4,861.7 1433.1,859.9 1434.8,858.2 1436.5,853.6 1437.7,848.4 1439.4,846.7 1440.6,843.8 1441.5,852.5 1442.6,862.8 1443.8,874.3 1444.6,885.8 1445.7,898.5 1446.9,912.3 1448.0,921.5 1449.2,924.3 1450.9,922.6 1453.2,922.4 1455.5,921.5 1456.9,919.7 1458.4,918.0 1460.1,917.4 1462.4,915.5 1464.1,915.7 1466.4,919.2 1467.0,905.4 1468.2,891.6 1469.3,880.1 1470.2,869.7 1471.4,859.4 1472.5,850.2 1473.7,844.4 1474.5,842.7 1475.6,847.9 1476.8,851.3 1477.9,857.1 1479.1,864.0 1480.9,872.0 1482.7,880.1 1485.0,882.9 1486.1,876.6 1487.3,867.4 1488.4,859.4 1489.6,852.5 1490.5,846.5 1491.3,854.8 1492.4,864.0 1494.2,873.2 1495.3,882.4 1496.5,891.6 1497.6,900.8 1499.3,906.5 1501.1,913.4 1503.4,919.7 1505.4,922.4 1507.4,919.2 1509.1,914.6 1510.0,904.2 1510.8,893.9 1512.0,881.2 1512.8,869.7 1513.7,858.2 1514.6,847.9 1515.4,841.0 1516.6,835.8 1517.7,833.5 1520.0,834.3 1522.3,834.6 1524.1,837.5 1525.8,841.0 1527.5,845.0 1529.2,850.2 1530.4,855.9 1532.1,864.0 1533.8,872.0 1535.6,878.9 1536.7,887.0 1537.9,895.0 1539.0,904.2 1540.2,911.1 1541.1,918.0 1542.5,919.2 1543.6,921.5 1545.3,917.4 1547.1,914.6 1548.8,912.5 1550.5,913.4 1552.2,911.7 1554.5,910.5 1555.3,899.6 1556.3,890.4 1557.2,882.4 1558.3,879.5 1559.1,885.8 1559.9,893.9 1560.9,900.8 1562.0,906.5 1563.2,911.1 1564.3,913.4 1565.7,908.8 1567.2,903.1 1568.9,904.2 1570.6,905.4 1572.4,906.5 1573.5,908.8 1574.9,914.6 1577.0,917.4 1578.7,919.2 1580.6,921.2 1582.1,918.0 1583.9,916.3 1585.6,914.6 1587.3,910.0 1588.5,901.9 1589.6,893.9 1591.3,888.1 1593.1,882.4 1594.4,879.1 1595.4,885.8 1596.3,897.3 1597.4,907.7 1598.8,915.7 1600.5,921.5 1602.3,926.1 1603.4,920.3 1604.6,913.4 1605.7,904.2 1606.9,895.0 1608.0,887.0 1608.9,877.8 1609.7,864.0 1610.5,851.3 1611.7,843.3 1613.4,836.6 1614.7,841.0 1615.8,849.0 1617.2,852.5 1618.9,857.1 1621.2,861.1 1623.0,857.1 1624.1,849.0 1625.3,844.4 1626.6,841.5 1628.1,845.6 1629.3,854.8 1630.4,861.7 1632.2,870.9 1633.3,878.9 1635.0,888.1 1636.2,896.2 1637.7,906.5 1638.8,913.4 1639.6,919.2 1640.5,924.9 1641.6,918.0 1642.7,908.8 1644.2,900.8 1645.4,892.7 1646.5,883.5 1647.7,873.2 1648.5,864.0 1650.0,859.4 1651.1,852.5 1652.3,846.7 1654.0,844.2 1655.2,845.6 1656.1,852.5 1658.0,857.1 1659.8,862.8 1661.5,868.6 1663.8,872.2 1665.5,871.4 1667.2,869.1 1668.4,865.1 1669.5,862.8 1670.7,866.3 1672.4,864.5 1673.6,869.7 1674.7,880.1 1675.9,890.4 1677.0,899.6 1678.2,905.4 1679.3,902.5 1680.5,911.1 1681.6,918.0 1683.3,919.2 1685.6,922.4 1687.4,919.2 1689.1,916.3 1690.4,914.0 1692.1,911.7 1693.8,908.2 1695.5,900.8 1696.7,888.1 1697.5,873.2 1698.4,860.5 1699.3,849.0 1700.5,844.4 1701.9,842.7 1704.2,841.2 1704.7,847.9 1705.5,855.9 1706.7,864.0 1707.8,874.3 1708.8,883.5 1710.1,893.9 1711.3,901.9 1712.4,911.1 1713.9,918.0 1716.2,924.3 1718.5,923.2 1719.7,918.0 1720.5,908.8 1721.4,895.0 1722.6,881.2 1723.5,866.3 1724.9,856.5 1726.6,854.2 1727.2,862.8 1727.7,872.0 1728.3,882.4 1729.5,891.6 1730.6,899.6 1732.3,908.8 1733.5,914.6 1734.6,917.4 1735.4,911.1 1736.4,900.8 1737.5,892.7 1738.7,885.8 1740.4,880.1 1742.7,878.3 1743.8,882.4 1744.6,889.3 1746.1,897.3 1747.3,904.2 1749.0,912.3 1750.7,919.2 1751.5,921.2 1752.7,919.7"/>
<polyline points="31.4,877.7 32.4,878.3 33.4,881.2 34.4,885.9 35.4,892.2 36.4,899.2 37.4,905.4 38.4,909.4 39.4,911.7 40.4,912.6 41.4,912.8 42.4,912.2 43.4,910.3 44.4,907.0 45.4,902.6 46.4,897.0 47.4,890.1 48.4,882.1 49.4,873.6 50.4,865.6 51.4,858.6 52.4,852.7 53.4,848.1 54.4,844.6 55.4,842.1 56.4,840.6 57.4,839.6 58.4,839.1 59.4,839.2 60.4,839.9 61.4,841.1 62.4,843.1 63.4,846.1 64.4,850.0 65.4,854.6 66.4,860.1 67.4,866.5 68.4,874.0 69.4,882.0 70.4,890.1 71.4,897.9 72.4,905.4 73.4,912.2 74.4,917.8 75.4,921.9 76.4,924.6 77.4,925.8 78.4,926.0 79.4,925.2 80.4,923.6 81.4,921.6 82.4,919.2 83.4,916.6 84.4,914.2 85.4,912.0 86.4,910.3 87.4,909.2 88.4,908.8 89.4,909.2 90.4,910.2 91.4,911.5 92.4,912.9 93.4,914.3 94.4,915.5 95.4,916.3 96.4,916.9 97.4,917.3 98.4,917.7 99.4,918.5 100.4,919.8 101.4,921.2 102.4,922.5 103.4,923.4 104.4,923.7 105.4,923.2 106.4,921.8 107.4,919.3 108.4,915.9 109.4,911.9 110.4,907.3 111.4,902.4 112.4,897.1 113.4,891.3 114.4,885.1 115.4,878.6 116.4,872.1 117.4,866.1 118.4,860.6 119.4,856.3 120.4,852.9 121.4,850.3 122.4,848.5 123.4,847.4 124.4,846.5 125.4,845.7 126.4,844.7 127.4,843.4 128.4,842.1 129.4,841.1 130.4,840.4 131.4,840.1 132.4,840.3 133.4,841.2 134.4,843.0 135.4,846.1 136.4,849.6 137.4,853.1 138.4,856.5 139.4,859.7 140.4,862.2 141.4,863.8 142.4,863.5 143.4,861.4 144.4,858.2 145.4,854.4 146.4,850.5 147.4,846.9 148.4,843.7 149.4,841.1 150.4,839.6 151.4,839.0 152.4,838.9 153.4,838.8 154.4,838.5 155.4,838.0 156.4,837.5 157.4,837.0 158.4,836.5 159.4,836.6 160.4,837.9 161.4,840.4 162.4,843.9 163.4,848.3 164.4,853.7 165.4,860.7 166.4,868.8 167.4,876.9 168.4,884.3 169.4,891.0 170.4,897.0 171.4,902.6 172.4,907.0 173.4,910.2 174.4,912.3 175.4,914.2 176.4,916.2 177.4,918.3 178.4,920.2 179.4,921.6 180.4,922.5 181.4,922.9 182.4,922.8 183.4,922.1 184.4,921.2 185.4,920.0 186.4,919.0 187.4,918.1 188.4,917.7 189.4,917.6 190.4,918.0 191.4,918.8 192.4,919.7 193.4,920.6 194.4,921.3 195.4,922.0 196.4,922.5 197.4,922.8 198.4,922.3 199.4,920.9 200.4,918.5 201.4,915.3 202.4,910.9 203.4,905.3 204.4,898.5 205.4,891.0 206.4,883.2 207.4,875.7 208.4,868.9 209.4,863.0 210.4,858.6 211.4,855.8 212.4,854.6 213.4,854.8 214.4,855.3 215.4,855.6 216.4,855.6 217.4,855.0 218.4,853.5 219.4,851.3 220.4,848.6 221.4,847.0 222.4,847.1 223.4,849.0 224.4,852.5 225.4,857.5 226.4,864.0 227.4,871.3 228.4,878.3 229.4,884.5 230.4,889.5 231.4,893.3 232.4,895.4 233.4,895.7 234.4,894.3 235.4,891.7 236.4,888.1 237.4,883.4 238.4,877.2 239.4,870.1 240.4,863.0 241.4,856.8 242.4,852.2 243.4,849.0 244.4,847.3 245.4,847.6 246.4,850.1 247.4,854.2 248.4,858.9 249.4,863.8 250.4,868.9 251.4,874.6 252.4,880.7 253.4,887.4 254.4,893.7 255.4,899.7 256.4,905.1 257.4,909.3 258.4,911.3 259.4,911.2 260.4,908.9 261.4,904.7 262.4,899.7 263.4,894.2 264.4,889.0 265.4,885.2 266.4,884.0 267.4,884.8 268.4,888.0 269.4,892.9 270.4,898.4 271.4,903.9 272.4,908.3 273.4,911.1 274.4,912.1 275.4,911.1 276.4,908.2 277.4,903.9 278.4,899.3 279.4,895.1 280.4,891.5 281.4,888.6 282.4,886.8 283.4,886.1 284.4,886.7 285.4,888.4 286.4,891.0 287.4,894.1 288.4,897.7 289.4,901.4 290.4,905.0 291.4,907.8 292.4,909.5 293.4,909.9 294.4,908.9 295.4,906.6 296.4,903.4 297.4,899.7 298.4,896.3 299.4,893.4 300.4,891.0 301.4,889.4 302.4,888.7 303.4,888.9 304.4,890.4 305.4,893.0 306.4,896.2 307.4,899.7 308.4,903.4 309.4,907.3 310.4,911.1 311.4,913.9 312.4,915.3 313.4,914.6 314.4,911.7 315.4,906.7 316.4,899.7 317.4,890.8 318.4,880.8 319.4,870.9 320.4,862.0 321.4,855.4 322.4,852.1 323.4,851.8 324.4,854.0 325.4,858.6 326.4,865.1 327.4,872.6 328.4,880.4 329.4,887.9 330.4,894.4 331.4,899.5 332.4,903.2 333.4,904.5 334.4,903.2 335.4,899.4 336.4,893.1 337.4,884.3 338.4,874.4 339.4,864.9 340.4,856.1 341.4,849.1 342.4,843.7 343.4,840.0 344.4,838.0 345.4,837.6 346.4,837.3 347.4,837.0 348.4,836.6 349.4,836.2 350.4,835.8 351.4,835.6 352.4,835.5 353.4,836.0 354.4,837.6 355.4,840.8 356.4,845.1 357.4,850.7 358.4,856.5 359.4,862.0 360.4,866.0 361.4,868.2 362.4,868.3 363.4,866.5 364.4,863.3 365.4,859.5 366.4,856.1 367.4,853.8 368.4,852.9 369.4,853.7 370.4,856.0 371.4,859.6 372.4,864.3 373.4,869.8 374.4,875.6 375.4,881.4 376.4,886.6 377.4,890.4 378.4,892.5 379.4,892.5 380.4,891.5 381.4,890.0 382.4,889.4 383.4,889.8 384.4,891.6 385.4,895.0 386.4,900.0 387.4,905.8 388.4,911.6 389.4,915.8 390.4,918.6 391.4,920.1 392.4,920.5 393.4,920.0 394.4,918.7 395.4,916.9 396.4,914.6 397.4,911.8 398.4,908.8 399.4,906.0 400.4,903.9 401.4,902.8 402.4,902.7 403.4,903.9 404.4,906.3 405.4,909.7 406.4,912.9 407.4,915.3 408.4,916.2 409.4,915.8 410.4,914.0 411.4,911.1 412.4,907.0 413.4,902.4 414.4,897.6 415.4,892.7 416.4,887.6 417.4,882.1 418.4,876.3 419.4,870.2 420.4,864.2 421.4,858.5 422.4,853.3 423.4,848.7 424.4,845.0 425.4,842.0 426.4,839.9 427.4,838.7 428.4,839.0 429.4,840.5 430.4,843.0 431.4,846.4 432.4,851.0 433.4,856.7 434.4,862.5 435.4,867.3 436.4,870.2 437.4,871.2 438.4,870.6 439.4,868.6 440.4,864.7 441.4,859.8 442.4,855.1 443.4,851.3 444.4,849.0 445.4,848.0 446.4,848.0 447.4,849.3 448.4,851.9 449.4,855.7 450.4,860.1 451.4,865.0 452.4,869.3 453.4,872.7 454.4,874.8 455.4,875.6 456.4,874.7 457.4,872.6 458.4,869.5 459.4,866.3 460.4,863.4 461.4,861.0 462.4,858.8 463.4,856.5 464.4,853.7 465.4,851.2 466.4,848.8 467.4,846.7 468.4,844.8 469.4,843.3 470.4,842.3 471.4,841.9 472.4,841.5 473.4,840.9 474.4,840.6 475.4,841.3 476.4,843.1 477.4,845.9 478.4,849.4 479.4,853.9 480.4,859.5 481.4,865.1 482.4,869.8 483.4,872.8 484.4,873.6 485.4,872.8 486.4,870.6 487.4,867.8 488.4,864.9 489.4,862.7 490.4,862.0 491.4,863.6 492.4,867.2 493.4,872.1 494.4,877.5 495.4,882.5 496.4,886.4 497.4,888.6 498.4,888.3 499.4,885.0 500.4,879.4 501.4,872.5 502.4,865.6 503.4,859.1 504.4,853.9 505.4,850.2 506.4,848.2 507.4,847.6 508.4,848.1 509.4,848.6 510.4,848.9 511.4,848.5 512.4,847.6 513.4,846.3 514.4,845.0 515.4,843.4 516.4,841.5 517.4,839.8 518.4,838.6 519.4,838.8 520.4,840.8 521.4,844.3 522.4,849.0 523.4,854.8 524.4,861.7 525.4,869.5 526.4,877.2 527.4,883.2 528.4,887.2 529.4,889.7 530.4,891.2 531.4,891.6 532.4,891.3 533.4,890.6 534.4,890.4 535.4,891.4 536.4,893.3 537.4,895.9 538.4,898.9 539.4,901.7 540.4,904.3 541.4,906.9 542.4,909.8 543.4,911.8 544.4,912.2 545.4,910.5 546.4,906.9 547.4,901.6 548.4,895.1 549.4,886.9 550.4,878.0 551.4,869.2 552.4,861.8 553.4,856.0 554.4,851.5 555.4,848.2 556.4,845.9 557.4,844.5 558.4,843.7 559.4,843.4 560.4,843.1 561.4,842.6 562.4,841.8 563.4,840.6 564.4,839.5 565.4,838.9 566.4,839.1 567.4,840.9 568.4,844.3 569.4,849.2 570.4,855.9 571.4,864.5 572.4,874.3 573.4,884.6 574.4,894.1 575.4,902.2 576.4,908.7 577.4,913.2 578.4,915.6 579.4,915.3 580.4,913.1 581.4,909.3 582.4,904.0 583.4,897.6 584.4,890.5 585.4,882.8 586.4,874.5 587.4,865.9 588.4,857.8 589.4,850.9 590.4,845.3 591.4,841.6 592.4,839.4 593.4,839.0 594.4,840.2 595.4,842.6 596.4,846.0 597.4,850.2 598.4,855.0 599.4,860.6 600.4,867.1 601.4,874.5 602.4,882.5 603.4,890.8 604.4,898.5 605.4,905.4 606.4,911.0 607.4,915.3 608.4,918.2 609.4,919.7 610.4,918.9 611.4,916.3 612.4,911.9 613.4,906.3 614.4,899.2 615.4,891.2 616.4,882.7 617.4,874.4 618.4,867.0 619.4,860.9 620.4,855.7 621.4,851.5 622.4,848.2 623.4,845.6 624.4,843.9 625.4,842.8 626.4,842.3 627.4,842.4 628.4,842.8 629.4,843.5 630.4,844.4 631.4,845.8 632.4,847.6 633.4,849.8 634.4,852.5 635.4,855.8 636.4,859.7 637.4,864.1 638.4,868.6 639.4,872.1 640.4,874.3 641.4,875.0 642.4,874.3 643.4,871.9 644.4,868.2 645.4,863.4 646.4,858.3 647.4,853.4 648.4,849.2 649.4,845.9 650.4,843.5 651.4,841.8 652.4,840.9 653.4,840.9 654.4,841.9 655.4,844.0 656.4,846.7 657.4,850.4 658.4,855.4 659.4,861.5 660.4,868.3 661.4,875.6 662.4,882.9 663.4,890.2 664.4,897.1 665.4,903.1 666.4,907.9 667.4,911.7 668.4,914.8 669.4,917.2 670.4,918.7 671.4,919.5 672.4,920.1 673.4,920.3 674.4,920.4 675.4,920.3 676.4,919.9 677.4,919.3 678.4,918.1 679.4,916.6 680.4,915.1 681.4,913.9 682.4,912.9 683.4,912.1 684.4,911.8 685.4,911.9 686.4,912.1 687.4,912.0 688.4,911.3 689.4,909.6 690.4,906.9 691.4,903.2 692.4,899.3 693.4,895.4 694.4,891.8 695.4,889.3 696.4,888.2 697.4,888.9 698.4,891.0 699.4,893.9 700.4,897.2 701.4,900.6 702.4,903.3 703.4,904.9 704.4,905.1 705.4,903.6 706.4,901.2 707.4,898.2 708.4,894.9 709.4,891.1 710.4,887.2 711.4,883.4 712.4,880.0 713.4,876.9 714.4,874.0 715.4,871.5 716.4,870.0 717.4,869.8 718.4,871.0 719.4,873.0 720.4,875.9 721.4,880.1 722.4,884.8 723.4,889.4 724.4,893.6 725.4,897.0 726.4,900.0 727.4,902.9 728.4,905.4 729.4,907.7 730.4,909.8 731.4,911.5 732.4,912.8 733.4,913.2 734.4,911.8 735.4,908.7 736.4,904.0 737.4,897.4 738.4,889.7 739.4,881.2 740.4,872.3 741.4,863.9 742.4,856.6 743.4,850.3 744.4,845.2 745.4,841.2 746.4,838.5 747.4,837.1 748.4,836.5 749.4,836.1 750.4,835.9 751.4,835.8 752.4,835.8 753.4,835.7 754.4,835.4 755.4,835.1 756.4,835.0 757.4,835.0 758.4,835.2 759.4,835.5 760.4,836.2 761.4,837.2 762.4,838.7 763.4,840.5 764.4,842.9 765.4,845.7 766.4,848.7 767.4,851.7 768.4,854.7 769.4,857.4 770.4,859.8 771.4,861.9 772.4,864.0 773.4,866.9 774.4,870.8 775.4,875.6 776.4,881.4 777.4,888.2 778.4,894.6 779.4,900.0 780.4,902.9 781.4,902.2 782.4,898.4 783.4,892.6 784.4,885.8 785.4,879.4 786.4,874.1 787.4,870.8 788.4,870.4 789.4,872.9 790.4,877.1 791.4,882.4 792.4,887.9 793.4,893.5 794.4,898.7 795.4,903.5 796.4,907.5 797.4,910.9 798.4,913.4 799.4,915.3 800.4,916.7 801.4,917.8 802.4,918.6 803.4,919.3 804.4,919.9 805.4,920.4 806.4,920.9 807.4,921.2 808.4,921.5 809.4,921.9 810.4,922.2 811.4,922.4 812.4,922.3 813.4,921.5 814.4,919.5 815.4,915.8 816.4,910.2 817.4,902.3 818.4,892.9 819.4,882.3 820.4,871.2 821.4,860.7 822.4,851.9 823.4,845.1 824.4,840.8 825.4,838.5 826.4,837.7 827.4,838.1 828.4,838.9 829.4,840.0 830.4,841.0 831.4,842.0 832.4,842.4 833.4,842.5 834.4,842.1 835.4,841.6 836.4,841.0 837.4,840.8 838.4,841.2 839.4,842.5 840.4,845.2 841.4,849.3 842.4,855.0 843.4,861.9 844.4,869.4 845.4,877.0 846.4,884.4 847.4,891.2 848.4,896.6 849.4,899.6 850.4,900.0 851.4,898.1 852.4,894.0 853.4,888.3 854.4,881.2 855.4,873.3 856.4,865.4 857.4,858.5 858.4,852.6 859.4,847.6 860.4,843.5 861.4,840.5 862.4,838.7 863.4,838.0 864.4,838.9 865.4,841.1 866.4,844.7 867.4,849.7 868.4,856.2 869.4,863.7 870.4,872.1 871.4,880.9 872.4,889.3 873.4,896.8 874.4,903.3 875.4,908.2 876.4,911.0 877.4,912.4 878.4,912.5 879.4,911.6 880.4,910.0 881.4,908.3 882.4,907.2 883.4,907.0 884.4,907.7 885.4,909.0 886.4,910.6 887.4,912.3 888.4,913.9 889.4,915.1 890.4,915.9 891.4,916.1 892.4,915.8 893.4,915.2 894.4,914.8 895.4,914.7 896.4,915.1 897.4,915.8 898.4,916.5 899.4,917.2 900.4,918.2 901.4,919.0 902.4,919.4 903.4,919.1 904.4,917.2 905.4,914.4 906.4,911.4 907.4,907.2 908.4,901.3 909.4,894.9 910.4,888.3 911.4,882.7 912.4,878.7 913.4,875.5 914.4,874.2 915.4,875.6 916.4,879.2 917.4,884.4 918.4,890.6 919.4,897.1 920.4,903.4 921.4,909.3 922.4,914.6 923.4,918.8 924.4,921.8 925.4,923.8 926.4,924.9 927.4,924.9 928.4,923.9 929.4,921.7 930.4,918.4 931.4,914.1 932.4,908.9 933.4,903.5 934.4,898.2 935.4,893.5 936.4,890.1 937.4,888.4 938.4,888.9 939.4,891.6 940.4,895.8 941.4,900.6 942.4,905.9 943.4,910.9 944.4,915.1 945.4,918.0 946.4,919.6 947.4,920.1 948.4,920.0 949.4,919.5 950.4,918.6 951.4,917.5 952.4,916.3 953.4,914.3 954.4,910.3 955.4,904.4 956.4,896.5 957.4,887.4 958.4,877.5 959.4,867.2 960.4,857.6 961.4,850.5 962.4,846.2 963.4,844.6 964.4,844.9 965.4,846.6 966.4,849.6 967.4,853.8 968.4,858.7 969.4,863.9 970.4,869.7 971.4,876.7 972.4,884.8 973.4,893.1 974.4,900.9 975.4,907.6 976.4,912.5 977.4,915.7 978.4,916.9 979.4,915.5 980.4,912.0 981.4,907.0 982.4,900.8 983.4,894.0 984.4,887.0 985.4,880.2 986.4,874.3 987.4,870.1 988.4,867.9 989.4,867.6 990.4,869.2 991.4,872.6 992.4,876.9 993.4,881.7 994.4,886.2 995.4,890.1 996.4,893.2 997.4,895.1 998.4,895.4 999.4,893.9 1000.4,890.9 1001.4,886.5 1002.4,880.7 1003.4,873.3 1004.4,865.1 1005.4,857.5 1006.4,850.7 1007.4,845.4 1008.4,841.1 1009.4,838.0 1010.4,836.5 1011.4,836.3 1012.4,836.5 1013.4,837.0 1014.4,837.7 1015.4,838.8 1016.4,840.3 1017.4,842.2 1018.4,844.9 1019.4,848.6 1020.4,853.4 1021.4,859.4 1022.4,866.5 1023.4,874.4 1024.4,882.2 1025.4,889.6 1026.4,896.2 1027.4,902.1 1028.4,906.7 1029.4,909.5 1030.4,910.4 1031.4,910.1 1032.4,908.9 1033.4,906.8 1034.4,903.3 1035.4,898.5 1036.4,893.7 1037.4,889.4 1038.4,885.8 1039.4,883.4 1040.4,881.9 1041.4,882.0 1042.4,884.1 1043.4,887.7 1044.4,892.0 1045.4,896.5 1046.4,900.8 1047.4,905.0 1048.4,908.5 1049.4,911.1 1050.4,912.8 1051.4,913.8 1052.4,914.7 1053.4,915.5 1054.4,916.3 1055.4,917.1 1056.4,918.0 1057.4,919.2 1058.4,920.4 1059.4,921.6 1060.4,922.3 1061.4,922.4 1062.4,921.9 1063.4,920.8 1064.4,919.1 1065.4,917.1 1066.4,914.6 1067.4,912.2 1068.4,910.2 1069.4,908.4 1070.4,906.7 1071.4,905.1 1072.4,903.6 1073.4,902.2 1074.4,901.0 1075.4,900.0 1076.4,899.5 1077.4,899.9 1078.4,900.7 1079.4,901.4 1080.4,901.6 1081.4,901.4 1082.4,900.5 1083.4,898.9 1084.4,896.4 1085.4,893.4 1086.4,891.0 1087.4,889.8 1088.4,890.2 1089.4,891.7 1090.4,894.6 1091.4,898.3 1092.4,903.0 1093.4,907.9 1094.4,912.5 1095.4,916.3 1096.4,919.2 1097.4,921.5 1098.4,923.1 1099.4,924.0 1100.4,924.3 1101.4,924.1 1102.4,923.3 1103.4,922.1 1104.4,920.3 1105.4,918.1 1106.4,915.4 1107.4,911.9 1108.4,907.5 1109.4,901.9 1110.4,895.4 1111.4,888.4 1112.4,881.1 1113.4,874.2 1114.4,869.0 1115.4,866.5 1116.4,866.8 1117.4,870.2 1118.4,875.9 1119.4,883.2 1120.4,890.9 1121.4,898.2 1122.4,903.6 1123.4,906.8 1124.4,907.6 1125.4,906.0 1126.4,903.0 1127.4,899.8 1128.4,896.6 1129.4,893.6 1130.4,891.5 1131.4,890.6 1132.4,890.3 1133.4,889.2 1134.4,886.8 1135.4,882.8 1136.4,877.7 1137.4,871.7 1138.4,864.9 1139.4,858.2 1140.4,852.6 1141.4,848.9 1142.4,847.2 1143.4,847.1 1144.4,848.5 1145.4,850.4 1146.4,852.5 1147.4,854.3 1148.4,856.0 1149.4,857.2 1150.4,858.0 1151.4,858.3 1152.4,858.5 1153.4,859.1 1154.4,860.4 1155.4,862.1 1156.4,863.6 1157.4,864.7 1158.4,865.2 1159.4,865.5 1160.4,865.8 1161.4,865.4 1162.4,864.3 1163.4,863.3 1164.4,862.9 1165.4,863.4 1166.4,864.9 1167.4,866.4 1168.4,867.2 1169.4,868.6 1170.4,870.4 1171.4,873.2 1172.4,876.7 1173.4,880.5 1174.4,884.5 1175.4,889.5 1176.4,894.7 1177.4,899.0 1178.4,901.6 1179.4,902.8 1180.4,902.8 1181.4,901.8 1182.4,900.4 1183.4,899.1 1184.4,898.9 1185.4,899.8 1186.4,901.6 1187.4,903.7 1188.4,905.2 1189.4,905.4 1190.4,904.3 1191.4,901.5 1192.4,897.9 1193.4,893.1 1194.4,887.6 1195.4,882.0 1196.4,877.2 1197.4,873.4 1198.4,870.1 1199.4,866.6 1200.4,862.8 1201.4,859.5 1202.4,857.2 1203.4,856.9 1204.4,858.2 1205.4,861.4 1206.4,866.2 1207.4,872.7 1208.4,880.7 1209.4,888.9 1210.4,895.7 1211.4,900.4 1212.4,903.1 1213.4,903.5 1214.4,902.0 1215.4,898.4 1216.4,893.0 1217.4,886.9 1218.4,881.1 1219.4,876.0 1220.4,871.7 1221.4,868.8 1222.4,867.3 1223.4,867.2 1224.4,868.2 1225.4,869.8 1226.4,871.8 1227.4,874.2 1228.4,876.2 1229.4,877.5 1230.4,878.9 1231.4,880.8 1232.4,883.2 1233.4,886.3 1234.4,889.9 1235.4,894.4 1236.4,899.9 1237.4,905.6 1238.4,910.9 1239.4,915.7 1240.4,919.6 1241.4,922.5 1242.4,924.2 1243.4,925.0 1244.4,924.5 1245.4,922.6 1246.4,918.5 1247.4,912.3 1248.4,904.1 1249.4,894.6 1250.4,884.2 1251.4,874.3 1252.4,865.1 1253.4,858.0 1254.4,852.8 1255.4,849.4 1256.4,847.7 1257.4,847.0 1258.4,846.1 1259.4,845.0 1260.4,843.6 1261.4,842.3 1262.4,842.3 1263.4,843.6 1264.4,846.7 1265.4,851.3 1266.4,857.4 1267.4,865.0 1268.4,873.8 1269.4,882.3 1270.4,890.1 1271.4,896.7 1272.4,901.7 1273.4,905.4 1274.4,907.8 1275.4,908.6 1276.4,907.5 1277.4,904.6 1278.4,900.5 1279.4,895.2 1280.4,888.3 1281.4,880.7 1282.4,873.0 1283.4,866.1 1284.4,860.6 1285.4,856.6 1286.4,854.0 1287.4,853.2 1288.4,853.7 1289.4,855.0 1290.4,856.3 1291.4,857.1 1292.4,857.3 1293.4,857.2 1294.4,857.6 1295.4,858.3 1296.4,859.5 1297.4,861.4 1298.4,864.4 1299.4,869.1 1300.4,875.1 1301.4,881.3 1302.4,887.1 1303.4,892.5 1304.4,897.0 1305.4,900.7 1306.4,903.2 1307.4,904.7 1308.4,905.5 1309.4,906.4 1310.4,907.9 1311.4,909.9 1312.4,912.0 1313.4,914.2 1314.4,916.1 1315.4,917.5 1316.4,918.2 1317.4,917.8 1318.4,916.8 1319.4,915.4 1320.4,913.5 1321.4,910.9 1322.4,907.5 1323.4,903.3 1324.4,898.1 1325.4,891.9 1326.4,884.5 1327.4,876.4 1328.4,868.5 1329.4,861.4 1330.4,855.4 1331.4,850.8 1332.4,847.6 1333.4,845.6 1334.4,844.5 1335.4,843.7 1336.4,842.9 1337.4,841.9 1338.4,840.6 1339.4,839.2 1340.4,837.9 1341.4,837.0 1342.4,836.8 1343.4,837.3 1344.4,838.6 1345.4,840.3 1346.4,842.4 1347.4,844.5 1348.4,847.0 1349.4,849.4 1350.4,851.3 1351.4,852.6 1352.4,853.1 1353.4,853.3 1354.4,853.4 1355.4,852.8 1356.4,851.5 1357.4,849.7 1358.4,847.5 1359.4,845.3 1360.4,843.2 1361.4,841.6 1362.4,840.4 1363.4,839.7 1364.4,839.6 1365.4,840.3 1366.4,841.9 1367.4,844.5 1368.4,847.9 1369.4,852.1 1370.4,857.4 1371.4,863.8 1372.4,871.3 1373.4,878.8 1374.4,884.4 1375.4,888.0 1376.4,889.0 1377.4,887.9 1378.4,884.7 1379.4,879.0 1380.4,871.8 1381.4,865.0 1382.4,859.1 1383.4,854.7 1384.4,851.9 1385.4,851.0 1386.4,851.9 1387.4,854.9 1388.4,859.0 1389.4,863.7 1390.4,869.4 1391.4,875.9 1392.4,882.8 1393.4,889.5 1394.4,895.7 1395.4,901.9 1396.4,907.8 1397.4,913.0 1398.4,917.3 1399.4,920.4 1400.4,922.5 1401.4,923.6 1402.4,923.8 1403.4,922.7 1404.4,920.5 1405.4,917.0 1406.4,912.5 1407.4,907.0 1408.4,900.8 1409.4,894.1 1410.4,887.1 1411.4,880.4 1412.4,874.2 1413.4,868.6 1414.4,863.5 1415.4,859.2 1416.4,856.1 1417.4,854.2 1418.4,853.1 1419.4,852.5 1420.4,852.2 1421.4,852.8 1422.4,854.3 1423.4,856.6 1424.4,859.1 1425.4,861.8 1426.4,864.7 1427.4,867.5 1428.4,870.1 1429.4,872.0 1430.4,873.0 1431.4,872.5 1432.4,870.9 1433.4,869.0 1434.4,866.9 1435.4,864.6 1436.4,862.1 1437.4,859.4 1438.4,856.8 1439.4,854.8 1440.4,852.9 1441.4,851.1 1442.4,850.4 1443.4,851.5 1444.4,854.4 1445.4,859.4 1446.4,866.4 1447.4,875.1 1448.4,885.0 1449.4,894.8 1450.4,903.5 1451.4,910.4 1452.4,915.9 1453.4,919.7 1454.4,921.8 1455.4,922.5 1456.4,922.4 1457.4,921.9 1458.4,921.3 1459.4,920.7 1460.4,920.0 1461.4,919.2 1462.4,918.4 1463.4,917.7 1464.4,917.1 1465.4,916.7 1466.4,916.6 1467.4,916.2 1468.4,913.8 1469.4,909.7 1470.4,904.2 1471.4,897.2 1472.4,888.9 1473.4,879.5 1474.4,869.5 1475.4,861.5 1476.4,855.8 1477.4,852.0 1478.4,850.4 1479.4,850.8 1480.4,853.0 1481.4,856.4 1482.4,860.9 1483.4,865.5 1484.4,869.7 1485.4,873.4 1486.4,875.9 1487.4,876.7 1488.4,876.0 1489.4,873.7 1490.4,869.8 1491.4,865.3 1492.4,861.9 1493.4,859.7 1494.4,859.5 1495.4,861.2 1496.4,864.9 1497.4,870.5 1498.4,877.7 1499.4,884.4 1500.4,890.6 1501.4,896.5 1502.4,901.9 1503.4,906.6 1504.4,910.5 1505.4,913.8 1506.4,916.2 1507.4,918.0 1508.4,919.0 1509.4,919.0 1510.4,917.6 1511.4,914.3 1512.4,909.2 1513.4,902.3 1514.4,893.7 1515.4,883.8 1516.4,873.4 1517.4,863.2 1518.4,854.3 1519.4,847.0 1520.4,841.5 1521.4,837.7 1522.4,835.6 1523.4,834.7 1524.4,834.7 1525.4,835.3 1526.4,836.3 1527.4,837.5 1528.4,839.1 1529.4,841.0 1530.4,843.5 1531.4,846.4 1532.4,849.7 1533.4,853.3 1534.4,857.3 1535.4,861.5 1536.4,866.1 1537.4,870.9 1538.4,876.1 1539.4,881.7 1540.4,887.6 1541.4,893.6 1542.4,899.8 1543.4,905.4 1544.4,910.3 1545.4,913.9 1546.4,916.3 1547.4,917.5 1548.4,917.6 1549.4,917.0 1550.4,916.0 1551.4,915.0 1552.4,914.0 1553.4,913.2 1554.4,912.6 1555.4,911.6 1556.4,909.3 1557.4,905.9 1558.4,901.6 1559.4,897.6 1560.4,894.5 1561.4,892.8 1562.4,892.3 1563.4,893.8 1564.4,897.0 1565.4,901.1 1566.4,904.5 1567.4,906.7 1568.4,907.6 1569.4,907.6 1570.4,907.1 1571.4,906.2 1572.4,905.4 1573.4,905.2 1574.4,905.8 1575.4,907.1 1576.4,908.7 1577.4,910.5 1578.4,912.3 1579.4,914.1 1580.4,916.0 1581.4,917.5 1582.4,918.4 1583.4,918.7 1584.4,918.7 1585.4,918.3 1586.4,917.6 1587.4,916.3 1588.4,914.5 1589.4,911.9 1590.4,908.6 1591.4,904.9 1592.4,900.9 1593.4,896.7 1594.4,892.4 1595.4,888.8 1596.4,887.2 1597.4,887.9 1598.4,890.5 1599.4,894.2 1600.4,899.0 1601.4,904.7 1602.4,910.7 1603.4,915.6 1604.4,918.5 1605.4,919.0 1606.4,917.7 1607.4,914.7 1608.4,910.3 1609.4,904.0 1610.4,895.6 1611.4,886.3 1612.4,876.6 1613.4,867.3 1614.4,858.9 1615.4,852.1 1616.4,847.0 1617.4,845.0 1618.4,845.0 1619.4,846.5 1620.4,849.0 1621.4,852.1 1622.4,854.8 1623.4,856.5 1624.4,856.9 1625.4,856.0 1626.4,854.3 1627.4,852.2 1628.4,850.1 1629.4,848.7 1630.4,848.6 1631.4,849.8 1632.4,852.6 1633.4,856.9 1634.4,862.2 1635.4,868.1 1636.4,874.1 1637.4,880.1 1638.4,886.3 1639.4,892.6 1640.4,899.0 1641.4,905.1 1642.4,909.6 1643.4,912.3 1644.4,913.1 1645.4,911.9 1646.4,908.9 1647.4,903.9 1648.4,896.9 1649.4,889.2 1650.4,882.1 1651.4,875.1 1652.4,868.4 1653.4,862.1 1654.4,856.8 1655.4,852.7 1656.4,850.4 1657.4,849.6 1658.4,849.6 1659.4,850.7 1660.4,852.8 1661.4,855.7 1662.4,859.0 1663.4,862.1 1664.4,864.6 1665.4,866.9 1666.4,868.6 1667.4,869.7 1668.4,870.0 1669.4,869.5 1670.4,868.6 1671.4,867.8 1672.4,866.9 1673.4,866.2 1674.4,866.5 1675.4,868.1 1676.4,871.3 1677.4,875.9 1678.4,881.0 1679.4,886.3 1680.4,892.1 1681.4,897.8 1682.4,903.2 1683.4,907.7 1684.4,911.1 1685.4,913.8 1686.4,916.4 1687.4,918.4 1688.4,919.4 1689.4,919.5 1690.4,919.1 1691.4,918.3 1692.4,917.0 1693.4,915.5 1694.4,913.7 1695.4,911.7 1696.4,908.9 1697.4,904.9 1698.4,899.0 1699.4,891.6 1700.4,882.8 1701.4,873.9 1702.4,865.2 1703.4,857.3 1704.4,850.8 1705.4,847.1 1706.4,846.5 1707.4,848.4 1708.4,852.4 1709.4,857.8 1710.4,864.5 1711.4,872.1 1712.4,880.5 1713.4,888.5 1714.4,896.0 1715.4,902.8 1716.4,908.6 1717.4,913.4 1718.4,917.2 1719.4,919.8 1720.4,920.4 1721.4,919.0 1722.4,915.3 1723.4,909.3 1724.4,901.1 1725.4,892.1 1726.4,882.8 1727.4,874.4 1728.4,869.2 1729.4,868.0 1730.4,869.7 1731.4,874.1 1732.4,880.6 1733.4,888.2 1734.4,896.2 1735.4,902.8 1736.4,906.1 1737.4,907.0 1738.4,906.2 1739.4,903.8 1740.4,899.9 1741.4,895.3 1742.4,890.1 1743.4,885.8 1744.4,883.6 1745.4,883.0 1746.4,883.9 1747.4,886.3 1748.4,889.9 1749.4,894.3 1750.4,899.3 1751.4,904.4 1752.4,908.9 1753.7,914.4" stroke="#f00"/>
</g>
<g shape-rendering="crispEdges" fill="#22c022"><rect x="1750" y="1" width="7" height="1"/><rect x="1751" y="2" width="5" height="1"/><rect x="1752" y="3" width="3" height="1"/><rect x="1753" y="4" width="1" height="1"/></g>
<g shape-rendering="crispEdges"><rect x="1906.5" y="17.5" width="9" height="8" fill="#fff" stroke="#b4b4b4"/><line x1="1908" y1="21.5" x2="1913" y2="21.5" stroke="#b4b4b4"/></g>
<text x="1859.5" y="51">287.50</text>
<text x="1859.5" y="85">275.00</text>
<text x="1859.5" y="120">262.50</text>
<text x="1859.5" y="154">250.00</text>
<text x="1859.5" y="189">237.50</text>
<text x="1859.5" y="223">225.00</text>
<text x="1859.5" y="257">212.50</text>
<text x="1859.5" y="292">200.00</text>
<text x="1859.5" y="326">187.50</text>
<text x="1859.5" y="361">175.00</text>
<text x="1859.5" y="395">162.50</text>
<text x="1859.5" y="430">150.00</text>
<text x="1859.5" y="464">137.50</text>
<text x="1859.5" y="499">125.00</text>
<text x="1859.5" y="533">112.50</text>
<text x="1859.5" y="567">100.00</text>
<text x="1859.5" y="602">87.50</text>
<text x="1859.5" y="636">75.00</text>
<text x="1859.5" y="671">62.50</text>
<text x="1859.5" y="705">50.00</text>
<text x="1859.5" y="740">37.500</text>
<text x="1859.5" y="774">25.000</text>
<text x="1859.5" y="808">12.500</text>
<text x="1856.3" y="14">(c)Tai-Pan</text>
<text x="1859" y="860.8">75.00</text>
<text x="1859" y="884.8">50.00</text>
<text x="1859" y="908.8">25.000</text>
<g shape-rendering="crispEdges">
<rect x="1854" y="720" width="62" height="14" fill="#00f"/>
<rect x="1854" y="901" width="62" height="14" fill="#f00"/>
<rect x="1854" y="916" width="62" height="14" fill="#000"/>
<g stroke="#fff"><line x1="1854" y1="727.5" x2="1857" y2="727.5"/><line x1="1854" y1="908.5" x2="1857" y2="908.5"/><line x1="1854" y1="923.5" x2="1857" y2="923.5"/></g>
</g>
<text x="1859.8" y="732" fill="#fff">40.365</text>
<text x="1859.8" y="913" fill="#fff">15.139</text>
<text x="1859.8" y="928" fill="#fff">9.977</text>
<text x="111.7" y="945" text-anchor="middle">01 20</text>
<text x="178.7" y="945" text-anchor="middle">03 20</text>
<text x="243.7" y="945" text-anchor="middle">05 20</text>
<text x="308.7" y="945" text-anchor="middle">07 20</text>
<text x="378.7" y="945" text-anchor="middle">09 20</text>
<text x="448.7" y="945" text-anchor="middle">11 20</text>
<text x="513.7" y="945" text-anchor="middle">01 21</text>
<text x="574.7" y="945" text-anchor="middle">03 21</text>
<text x="643.7" y="945" text-anchor="middle">05 21</text>
<text x="709.7" y="945" text-anchor="middle">07 21</text>
<text x="779.7" y="945" text-anchor="middle">09 21</text>
<text x="847.7" y="945" text-anchor="middle">11 21</text>
<text x="915.7" y="945" text-anchor="middle">01 22</text>
<text x="980.7" y="945" text-anchor="middle">03 22</text>
<text x="1047.7" y="945" text-anchor="middle">05 22</text>
<text x="1117.7" y="945" text-anchor="middle">07 22</text>
<text x="1187.7" y="945" text-anchor="middle">09 22</text>
<text x="1255.7" y="945" text-anchor="middle">11 22</text>
<text x="1323.7" y="945" text-anchor="middle">01 23</text>
<text x="1390.7" y="945" text-anchor="middle">03 23</text>
<text x="1455.7" y="945" text-anchor="middle">05 23</text>
<text x="1524.7" y="945" text-anchor="middle">07 23</text>
<text x="1594.7" y="945" text-anchor="middle">09 23</text>
<text x="1662.7" y="945" text-anchor="middle">11 23</text>
<text x="1727.7" y="945" text-anchor="middle">01 24</text>
<text x="1796.7" y="945" text-anchor="middle">03 24</text>
<text x="1845" y="944" text-anchor="middle">-</text>
<text x="1859" y="945">25.01.24</text>
<g class="tt">
<text x="233.5" y="21" textLength="114.3" lengthAdjust="spacingAndGlyphs">Endlos-Zertifikat</text>
<text x="352.8" y="21" textLength="58.9" lengthAdjust="spacingAndGlyphs">bezogen</text>
<text x="417.9" y="21" textLength="21.3" lengthAdjust="spacingAndGlyphs">auf</text>
<text x="443.5" y="21" textLength="25.7" lengthAdjust="spacingAndGlyphs">LUS</text>
<text x="474.2" y="21" textLength="103.1" lengthAdjust="spacingAndGlyphs">Wikifolio-Index</text>
<text x="582.5" y="21" textLength="95.7" lengthAdjust="spacingAndGlyphs">&quot;Performance</text>
<text x="683.7" y="21" textLength="25.5" lengthAdjust="spacingAndGlyphs">von</text>
<text x="714.6" y="21" textLength="125.5" lengthAdjust="spacingAndGlyphs">Kryptowaehrung&quot;.</text>
<text x="845.8" y="21" textLength="30.3" lengthAdjust="spacingAndGlyphs">&lt;Auf</text>
<text x="880.8" y="21" textLength="63.2" lengthAdjust="spacingAndGlyphs">LITECOIN</text>
<text x="948.8" y="21" textLength="34.4" lengthAdjust="spacingAndGlyphs">(LTC)</text>
<text x="988.9" y="21" textLength="25.0" lengthAdjust="spacingAndGlyphs">und</text>
<text x="1019.5" y="21" textLength="55.8" lengthAdjust="spacingAndGlyphs">BITCOIN</text>
<text x="1080.3" y="21" textLength="37.0" lengthAdjust="spacingAndGlyphs">CASH</text>
<text x="1122.3" y="21" textLength="46.9" lengthAdjust="spacingAndGlyphs">(BCH)&gt;</text>
</g>
<g class="sf">
<text x="234.1" y="81.7" textLength="80.5" lengthAdjust="spacingAndGlyphs">Haftungsausschluss</text>
<text x="316.6" y="81.7" textLength="11.0" lengthAdjust="spacingAndGlyphs">für</text>
<text x="331.5" y="81.7" textLength="28.5" lengthAdjust="spacingAndGlyphs">Inhalte:</text>
<text x="363.6" y="81.7" textLength="16.4" lengthAdjust="spacingAndGlyphs">Alle</text>
<text x="383.1" y="81.7" textLength="50.9" lengthAdjust="spacingAndGlyphs">Trendkanäle</text>
<text x="436.7" y="81.7" textLength="19.3" lengthAdjust="spacingAndGlyphs">bzw.</text>
<text x="458.8" y="81.7" textLength="27.7" lengthAdjust="spacingAndGlyphs">andere</text>
<text x="489.6" y="81.7" textLength="26.9" lengthAdjust="spacingAndGlyphs">Linien,</text>
<text x="518.6" y="81.7" textLength="18.0" lengthAdjust="spacingAndGlyphs">oder</text>
<text x="540.0" y="81.7" textLength="36.5" lengthAdjust="spacingAndGlyphs">Grafiken</text>
<text x="578.9" y="81.7" textLength="14.1" lengthAdjust="spacingAndGlyphs">hier</text>
<text x="596.4" y="81.7" textLength="15.1" lengthAdjust="spacingAndGlyphs">sind</text>
<text x="614.1" y="81.7" textLength="21.9" lengthAdjust="spacingAndGlyphs">keine</text>
<text x="638.7" y="81.7" textLength="60.7" lengthAdjust="spacingAndGlyphs">Empfehlungen,</text>
<text x="702.9" y="81.7" textLength="18.1" lengthAdjust="spacingAndGlyphs">oder</text>
<text x="724.2" y="81.7" textLength="39.4" lengthAdjust="spacingAndGlyphs">Beratung,</text>
<text x="766.8" y="81.7" textLength="32.8" lengthAdjust="spacingAndGlyphs">sondern</text>
<text x="802.5" y="81.7" textLength="10.7" lengthAdjust="spacingAndGlyphs">die</text>
<text x="815.8" y="81.7" textLength="26.7" lengthAdjust="spacingAndGlyphs">zeigen</text>
<text x="845.1" y="81.7" textLength="32.6" lengthAdjust="spacingAndGlyphs">lediglich</text>
<text x="880.5" y="81.7" textLength="23.0" lengthAdjust="spacingAndGlyphs">meine</text>
<text x="906.6" y="81.7" textLength="25.9" lengthAdjust="spacingAndGlyphs">eigene</text>
<text x="936.4" y="81.7" textLength="56.4" lengthAdjust="spacingAndGlyphs">Einschätzung.</text>
<text x="996.4" y="81.7" textLength="15.9" lengthAdjust="spacingAndGlyphs">Alle</text>
<text x="1015.8" y="81.7" textLength="45.1" lengthAdjust="spacingAndGlyphs">Chartdaten</text>
<text x="1064.0" y="81.7" textLength="14.9" lengthAdjust="spacingAndGlyphs">sind</text>
<text x="1082.2" y="81.7" textLength="18.8" lengthAdjust="spacingAndGlyphs">ohne</text>
<text x="1104.7" y="81.7" textLength="35.1" lengthAdjust="spacingAndGlyphs">Gewähr.</text>
<text x="1145.4" y="81.7" textLength="192.1" lengthAdjust="spacingAndGlyphs">www.wikifolio.com/de/de/p/cyberwaehrungen</text>
</g>
<text x="576" y="826.5" fill="#000090" textLength="929" lengthAdjust="spacingAndGlyphs">- Stochastik-Oszillator - Ein Indikator, für erfahrene viel-Trader, schwankt zwischen Null und 100. Seine überverkaufte Zone, liegt unter 20 und die überkaufte Zone, über 80.</text>
<g shape-rendering="crispEdges"><rect x="5.5" y="834.5" width="47" height="14" fill="#fff" stroke="#000"/><rect x="55.5" y="835.5" width="12" height="12" fill="#fff" stroke="#000"/><rect x="57" y="840" width="9" height="2" fill="#000"/><rect x="60" y="837" width="2" height="9" fill="#000"/>
<rect x="8" y="850" width="20" height="28" fill="#fff"/></g>
<text x="8.4" y="846" fill="#000018">Sto(9/5)</text>
<text x="8.4" y="861">%K</text>
<text x="8.4" y="876" fill="#f00">%D</text>
<g shape-rendering="crispEdges" fill="#000">
<rect x="0" y="0" width="1853" height="1"/>
<rect x="0" y="0" width="1" height="948"/>
<rect x="0" y="947" width="1916" height="1"/>
<rect x="1915" y="0" width="1" height="948"/>
</g>
</svg></body></html>
